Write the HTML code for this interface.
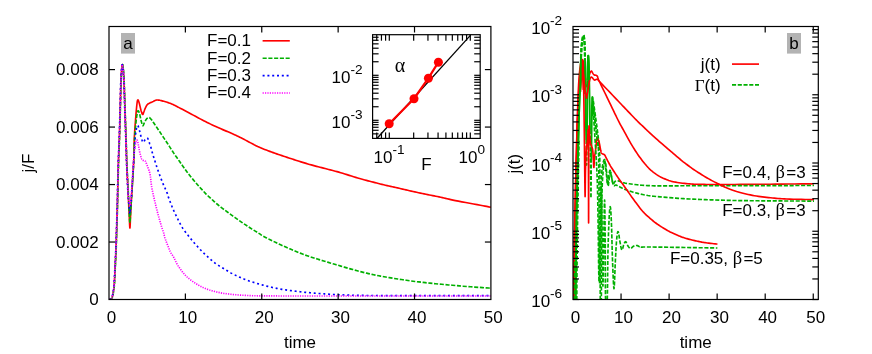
<!DOCTYPE html>
<html><head><meta charset="utf-8"><title>chart</title><style>html,body{margin:0;padding:0;background:#fff}svg{display:block}</style></head><body>
<svg width="872" height="354" viewBox="0 0 872 354" style="display:block;will-change:transform">
<rect x="0" y="0" width="872" height="354" fill="#fff"/>
<defs><clipPath id="cl"><rect x="109.00" y="26.50" width="381.90" height="273.00"/></clipPath>
<clipPath id="cr"><rect x="573.00" y="26.50" width="245.30" height="273.50"/></clipPath>
<clipPath id="ci"><rect x="372.6" y="34.7" width="107.6" height="103.7"/></clipPath></defs>
<g clip-path="url(#cl)">
<path d="M109.50 299.50 L109.63 299.46 L109.82 299.41 L110.03 299.36 L110.27 299.29 L110.52 299.21 L110.77 299.10 L111.00 298.97 L111.20 298.80 L111.38 298.60 L111.54 298.39 L111.70 298.16 L111.85 297.89 L111.99 297.60 L112.13 297.27 L112.27 296.91 L112.40 296.50 L112.53 296.05 L112.65 295.57 L112.76 295.04 L112.87 294.49 L112.98 293.89 L113.08 293.27 L113.19 292.60 L113.30 291.90 L113.41 291.22 L113.52 290.57 L113.64 289.92 L113.75 289.22 L113.86 288.43 L113.97 287.49 L114.09 286.36 L114.20 285.00 L114.31 283.37 L114.43 281.48 L114.54 279.41 L114.65 277.19 L114.77 274.89 L114.88 272.56 L114.99 270.24 L115.10 268.00 L115.21 265.72 L115.33 263.31 L115.45 260.84 L115.57 258.38 L115.68 255.99 L115.78 253.75 L115.87 251.73 L115.95 250.00 L116.01 248.70 L116.04 247.83 L116.07 247.24 L116.08 246.76 L116.10 246.25 L116.12 245.56 L116.15 244.53 L116.20 243.00 L116.27 240.92 L116.35 238.39 L116.44 235.55 L116.53 232.51 L116.63 229.40 L116.73 226.33 L116.82 223.42 L116.90 220.80 L116.97 218.60 L117.03 216.76 L117.08 215.12 L117.13 213.51 L117.19 211.76 L117.25 209.70 L117.32 207.17 L117.40 204.00 L117.50 200.00 L117.61 195.26 L117.72 190.00 L117.85 184.45 L117.97 178.85 L118.10 173.42 L118.23 168.39 L118.35 164.00 L118.47 160.21 L118.60 156.78 L118.72 153.65 L118.85 150.75 L118.97 148.00 L119.09 145.34 L119.20 142.70 L119.30 140.00 L119.39 137.29 L119.48 134.64 L119.56 132.06 L119.63 129.54 L119.70 127.08 L119.77 124.67 L119.83 122.31 L119.90 120.00 L119.96 117.79 L120.02 115.71 L120.08 113.71 L120.13 111.74 L120.18 109.78 L120.23 107.76 L120.29 105.65 L120.35 103.40 L120.41 100.95 L120.48 98.31 L120.54 95.56 L120.61 92.78 L120.68 90.02 L120.75 87.37 L120.82 84.91 L120.90 82.70 L120.98 80.73 L121.06 78.90 L121.14 77.23 L121.23 75.67 L121.32 74.24 L121.41 72.91 L121.50 71.67 L121.60 70.50 L121.70 69.38 L121.80 68.31 L121.91 67.31 L122.02 66.42 L122.12 65.67 L122.23 65.10 L122.34 64.73 L122.45 64.60 L122.56 64.73 L122.66 65.10 L122.77 65.67 L122.88 66.42 L122.99 67.31 L123.09 68.31 L123.20 69.38 L123.30 70.50 L123.40 71.67 L123.50 72.91 L123.59 74.24 L123.68 75.68 L123.78 77.23 L123.87 78.90 L123.96 80.73 L124.05 82.70 L124.14 84.91 L124.23 87.37 L124.32 90.02 L124.41 92.78 L124.50 95.56 L124.59 98.31 L124.67 100.95 L124.75 103.40 L124.82 105.65 L124.89 107.76 L124.96 109.78 L125.02 111.74 L125.09 113.71 L125.16 115.71 L125.23 117.79 L125.30 120.00 L125.38 122.31 L125.46 124.67 L125.55 127.08 L125.64 129.54 L125.73 132.06 L125.82 134.64 L125.91 137.29 L126.00 140.00 L126.09 142.86 L126.18 145.91 L126.28 149.06 L126.37 152.25 L126.47 155.41 L126.56 158.47 L126.66 161.36 L126.75 164.00 L126.84 166.38 L126.94 168.56 L127.03 170.59 L127.12 172.50 L127.22 174.35 L127.31 176.19 L127.40 178.05 L127.50 180.00 L127.60 181.98 L127.69 183.93 L127.79 185.87 L127.89 187.81 L127.99 189.78 L128.09 191.79 L128.19 193.86 L128.30 196.00 L128.41 198.27 L128.52 200.68 L128.64 203.17 L128.76 205.69 L128.87 208.18 L128.99 210.60 L129.10 212.89 L129.20 215.00 L129.30 217.09 L129.39 219.28 L129.48 221.46 L129.56 223.50 L129.65 225.29 L129.73 226.72 L129.81 227.66 L129.90 228.00 L129.99 227.62 L130.08 226.59 L130.16 225.05 L130.25 223.16 L130.34 221.05 L130.43 218.89 L130.51 216.83 L130.60 215.00 L130.68 213.53 L130.73 212.32 L130.78 211.20 L130.84 210.03 L130.91 208.64 L131.00 206.86 L131.13 204.53 L131.30 201.50 L131.54 197.52 L131.85 192.63 L132.19 187.11 L132.56 181.26 L132.93 175.34 L133.27 169.63 L133.57 164.43 L133.80 160.00 L133.95 156.34 L134.04 153.18 L134.09 150.40 L134.12 147.90 L134.13 145.56 L134.16 143.27 L134.21 140.92 L134.30 138.40 L134.43 135.72 L134.59 133.01 L134.76 130.29 L134.95 127.59 L135.14 124.95 L135.34 122.40 L135.52 119.97 L135.70 117.70 L135.87 115.54 L136.04 113.44 L136.21 111.43 L136.38 109.53 L136.55 107.76 L136.71 106.15 L136.86 104.72 L137.00 103.50 L137.13 102.50 L137.24 101.70 L137.35 101.08 L137.45 100.62 L137.55 100.29 L137.66 100.08 L137.77 99.96 L137.90 99.90 L138.04 99.93 L138.18 100.09 L138.33 100.36 L138.48 100.73 L138.64 101.18 L138.82 101.72 L139.00 102.33 L139.20 103.00 L139.42 103.80 L139.66 104.76 L139.92 105.84 L140.19 106.97 L140.46 108.11 L140.72 109.20 L140.97 110.18 L141.20 111.00 L141.41 111.69 L141.62 112.33 L141.82 112.91 L142.01 113.41 L142.19 113.82 L142.36 114.15 L142.54 114.38 L142.70 114.50 L142.86 114.48 L143.00 114.32 L143.13 114.04 L143.26 113.68 L143.39 113.27 L143.52 112.83 L143.66 112.40 L143.80 112.00 L143.95 111.62 L144.10 111.21 L144.26 110.79 L144.41 110.35 L144.57 109.91 L144.74 109.46 L144.92 109.03 L145.10 108.60 L145.29 108.17 L145.49 107.73 L145.70 107.28 L145.92 106.84 L146.14 106.42 L146.36 106.01 L146.58 105.64 L146.80 105.30 L147.01 105.01 L147.20 104.76 L147.39 104.54 L147.59 104.34 L147.80 104.16 L148.03 103.98 L148.29 103.80 L148.60 103.60 L148.96 103.39 L149.37 103.19 L149.81 102.98 L150.28 102.78 L150.76 102.58 L151.23 102.38 L151.68 102.19 L152.10 102.00 L152.49 101.81 L152.87 101.62 L153.24 101.43 L153.59 101.24 L153.95 101.06 L154.30 100.89 L154.65 100.74 L155.00 100.60 L155.33 100.47 L155.63 100.35 L155.92 100.23 L156.21 100.13 L156.52 100.05 L156.88 100.00 L157.30 99.98 L157.80 100.00 L158.39 100.06 L159.05 100.17 L159.77 100.30 L160.54 100.47 L161.34 100.66 L162.15 100.86 L162.98 101.08 L163.80 101.30 L164.63 101.53 L165.48 101.78 L166.36 102.05 L167.24 102.32 L168.14 102.62 L169.03 102.93 L169.92 103.26 L170.80 103.60 L171.62 103.94 L172.37 104.26 L173.09 104.59 L173.82 104.94 L174.61 105.33 L175.49 105.77 L176.51 106.29 L177.70 106.90 L179.09 107.62 L180.66 108.44 L182.37 109.34 L184.16 110.29 L186.01 111.28 L187.88 112.27 L189.72 113.26 L191.50 114.20 L193.23 115.13 L194.97 116.06 L196.71 117.01 L198.45 117.95 L200.19 118.89 L201.93 119.81 L203.67 120.72 L205.40 121.60 L207.13 122.46 L208.86 123.30 L210.58 124.13 L212.31 124.94 L214.03 125.75 L215.75 126.54 L217.48 127.32 L219.20 128.10 L220.94 128.87 L222.72 129.63 L224.50 130.38 L226.28 131.12 L228.04 131.86 L229.75 132.58 L231.41 133.30 L233.00 134.00 L234.48 134.68 L235.86 135.32 L237.17 135.95 L238.45 136.57 L239.73 137.20 L241.04 137.86 L242.42 138.55 L243.90 139.30 L245.49 140.12 L247.15 141.01 L248.86 141.94 L250.62 142.89 L252.40 143.84 L254.18 144.78 L255.96 145.67 L257.70 146.50 L259.42 147.27 L261.15 148.01 L262.87 148.72 L264.59 149.40 L266.32 150.06 L268.04 150.71 L269.77 151.36 L271.50 152.00 L273.23 152.64 L274.97 153.26 L276.71 153.86 L278.45 154.46 L280.19 155.05 L281.93 155.64 L283.67 156.22 L285.40 156.80 L287.13 157.38 L288.86 157.96 L290.58 158.53 L292.31 159.09 L294.03 159.65 L295.75 160.21 L297.48 160.76 L299.20 161.30 L300.92 161.84 L302.65 162.36 L304.37 162.89 L306.09 163.41 L307.82 163.92 L309.54 164.42 L311.27 164.91 L313.00 165.40 L314.73 165.87 L316.47 166.33 L318.21 166.78 L319.95 167.22 L321.69 167.66 L323.43 168.10 L325.17 168.55 L326.90 169.00 L328.61 169.45 L330.28 169.88 L331.94 170.31 L333.61 170.74 L335.30 171.19 L337.03 171.66 L338.82 172.16 L340.70 172.70 L342.69 173.30 L344.80 173.95 L346.98 174.64 L349.20 175.35 L351.42 176.06 L353.60 176.75 L355.71 177.40 L357.70 178.00 L359.58 178.54 L361.37 179.04 L363.10 179.51 L364.79 179.96 L366.46 180.40 L368.12 180.83 L369.79 181.26 L371.50 181.70 L373.23 182.15 L374.97 182.60 L376.71 183.04 L378.45 183.49 L380.19 183.93 L381.93 184.36 L383.67 184.78 L385.40 185.20 L387.13 185.61 L388.86 186.00 L390.58 186.39 L392.31 186.77 L394.03 187.15 L395.75 187.53 L397.48 187.91 L399.20 188.30 L400.92 188.70 L402.63 189.10 L404.34 189.50 L406.04 189.90 L407.76 190.30 L409.49 190.70 L411.23 191.10 L413.00 191.50 L414.81 191.90 L416.65 192.29 L418.52 192.69 L420.40 193.09 L422.27 193.48 L424.12 193.86 L425.94 194.24 L427.70 194.60 L429.39 194.94 L431.03 195.27 L432.62 195.58 L434.20 195.88 L435.78 196.19 L437.37 196.51 L439.01 196.84 L440.70 197.20 L442.37 197.58 L443.95 197.95 L445.52 198.34 L447.14 198.74 L448.87 199.17 L450.78 199.61 L452.93 200.09 L455.40 200.60 L458.37 201.18 L461.85 201.84 L465.67 202.54 L469.62 203.26 L473.53 203.97 L477.18 204.63 L480.40 205.22 L483.00 205.70 L484.98 206.08 L486.55 206.38 L487.75 206.63 L488.68 206.82 L489.38 206.97 L489.94 207.09 L490.43 207.20 L490.90 207.30" fill="none" stroke="#ff0000" stroke-width="1.65" stroke-linejoin="round" />
<path d="M109.70 299.50 L109.83 299.46 L110.02 299.41 L110.23 299.36 L110.47 299.29 L110.72 299.21 L110.97 299.10 L111.20 298.97 L111.40 298.80 L111.58 298.60 L111.74 298.39 L111.90 298.16 L112.05 297.89 L112.19 297.60 L112.33 297.27 L112.47 296.91 L112.60 296.50 L112.73 296.05 L112.85 295.57 L112.96 295.04 L113.07 294.49 L113.18 293.89 L113.28 293.27 L113.39 292.60 L113.50 291.90 L113.61 291.22 L113.72 290.57 L113.84 289.92 L113.95 289.22 L114.06 288.43 L114.17 287.49 L114.29 286.36 L114.40 285.00 L114.51 283.37 L114.63 281.48 L114.74 279.41 L114.85 277.19 L114.97 274.89 L115.08 272.56 L115.19 270.24 L115.30 268.00 L115.41 265.72 L115.53 263.31 L115.65 260.84 L115.77 258.38 L115.88 255.99 L115.98 253.75 L116.07 251.73 L116.15 250.00 L116.21 248.70 L116.24 247.83 L116.27 247.24 L116.28 246.76 L116.30 246.25 L116.32 245.56 L116.35 244.53 L116.40 243.00 L116.47 240.92 L116.55 238.39 L116.64 235.55 L116.73 232.51 L116.83 229.40 L116.93 226.33 L117.02 223.42 L117.10 220.80 L117.17 218.60 L117.23 216.76 L117.28 215.12 L117.33 213.51 L117.39 211.76 L117.45 209.70 L117.52 207.17 L117.60 204.00 L117.70 200.00 L117.81 195.26 L117.92 190.00 L118.05 184.45 L118.17 178.85 L118.30 173.42 L118.43 168.39 L118.55 164.00 L118.67 160.21 L118.80 156.78 L118.92 153.65 L119.05 150.75 L119.17 148.00 L119.29 145.34 L119.40 142.70 L119.50 140.00 L119.59 137.29 L119.68 134.64 L119.76 132.06 L119.83 129.54 L119.90 127.08 L119.97 124.67 L120.03 122.31 L120.10 120.00 L120.16 117.79 L120.22 115.71 L120.28 113.71 L120.33 111.74 L120.38 109.78 L120.43 107.76 L120.49 105.65 L120.55 103.40 L120.61 100.95 L120.68 98.31 L120.74 95.56 L120.81 92.78 L120.88 90.02 L120.95 87.37 L121.02 84.91 L121.10 82.70 L121.18 80.73 L121.26 78.90 L121.34 77.23 L121.43 75.67 L121.52 74.24 L121.61 72.91 L121.70 71.67 L121.80 70.50 L121.90 69.38 L122.00 68.31 L122.11 67.31 L122.22 66.42 L122.32 65.67 L122.43 65.10 L122.54 64.73 L122.65 64.60 L122.76 64.73 L122.86 65.10 L122.97 65.67 L123.08 66.42 L123.19 67.31 L123.29 68.31 L123.40 69.38 L123.50 70.50 L123.60 71.67 L123.70 72.91 L123.79 74.24 L123.88 75.68 L123.98 77.23 L124.07 78.90 L124.16 80.73 L124.25 82.70 L124.34 84.91 L124.43 87.37 L124.52 90.02 L124.61 92.78 L124.70 95.56 L124.79 98.31 L124.87 100.95 L124.95 103.40 L125.02 105.65 L125.09 107.76 L125.16 109.78 L125.22 111.74 L125.29 113.71 L125.36 115.71 L125.43 117.79 L125.50 120.00 L125.58 122.31 L125.66 124.67 L125.75 127.08 L125.84 129.54 L125.93 132.06 L126.02 134.64 L126.11 137.29 L126.20 140.00 L126.29 142.86 L126.38 145.91 L126.48 149.06 L126.57 152.25 L126.67 155.41 L126.76 158.47 L126.86 161.36 L126.95 164.00 L127.04 166.38 L127.14 168.56 L127.23 170.59 L127.32 172.50 L127.42 174.35 L127.51 176.19 L127.60 178.05 L127.70 180.00 L127.80 182.00 L127.90 184.00 L128.00 186.00 L128.10 188.00 L128.21 190.00 L128.31 192.00 L128.40 194.00 L128.50 196.00 L128.59 198.04 L128.68 200.12 L128.77 202.23 L128.86 204.33 L128.94 206.38 L129.03 208.37 L129.11 210.25 L129.20 212.00 L129.29 213.75 L129.38 215.57 L129.46 217.38 L129.55 219.07 L129.64 220.56 L129.72 221.74 L129.81 222.52 L129.90 222.80 L129.99 222.48 L130.08 221.61 L130.16 220.32 L130.25 218.73 L130.34 216.98 L130.43 215.19 L130.51 213.48 L130.60 212.00 L130.68 210.89 L130.73 210.08 L130.78 209.40 L130.84 208.67 L130.91 207.69 L131.00 206.30 L131.13 204.29 L131.30 201.50 L131.54 197.65 L131.84 192.80 L132.18 187.26 L132.55 181.34 L132.92 175.35 L133.26 169.59 L133.56 164.37 L133.80 160.00 L133.97 156.46 L134.08 153.44 L134.16 150.84 L134.21 148.53 L134.26 146.41 L134.31 144.36 L134.39 142.26 L134.50 140.00 L134.65 137.59 L134.82 135.15 L135.01 132.71 L135.21 130.31 L135.42 128.00 L135.62 125.82 L135.82 123.81 L136.00 122.00 L136.17 120.40 L136.35 118.96 L136.52 117.67 L136.69 116.51 L136.85 115.48 L137.01 114.56 L137.16 113.74 L137.30 113.00 L137.43 112.37 L137.54 111.86 L137.65 111.46 L137.75 111.17 L137.85 110.97 L137.96 110.85 L138.07 110.79 L138.20 110.80 L138.34 110.87 L138.49 111.02 L138.64 111.24 L138.80 111.54 L138.97 111.92 L139.14 112.37 L139.32 112.90 L139.50 113.50 L139.69 114.23 L139.90 115.10 L140.11 116.08 L140.33 117.12 L140.55 118.18 L140.77 119.21 L140.99 120.16 L141.20 121.00 L141.41 121.77 L141.61 122.54 L141.82 123.28 L142.02 123.97 L142.22 124.59 L142.42 125.10 L142.61 125.48 L142.80 125.70 L142.98 125.74 L143.14 125.62 L143.30 125.36 L143.46 125.01 L143.62 124.58 L143.79 124.11 L143.98 123.64 L144.20 123.20 L144.44 122.74 L144.71 122.21 L144.99 121.63 L145.28 121.04 L145.58 120.45 L145.89 119.90 L146.20 119.41 L146.50 119.00 L146.80 118.66 L147.12 118.35 L147.43 118.09 L147.75 117.86 L148.07 117.69 L148.38 117.57 L148.70 117.50 L149.00 117.50 L149.30 117.57 L149.58 117.72 L149.87 117.93 L150.15 118.19 L150.43 118.49 L150.72 118.81 L151.00 119.15 L151.30 119.50 L151.57 119.82 L151.81 120.11 L152.03 120.40 L152.26 120.73 L152.52 121.12 L152.85 121.60 L153.27 122.22 L153.80 123.00 L154.46 123.97 L155.24 125.11 L156.10 126.39 L157.03 127.77 L157.98 129.20 L158.95 130.64 L159.90 132.05 L160.80 133.40 L161.67 134.71 L162.55 136.02 L163.43 137.34 L164.30 138.65 L165.17 139.96 L166.03 141.26 L166.87 142.54 L167.70 143.80 L168.52 145.07 L169.36 146.35 L170.18 147.64 L170.99 148.91 L171.78 150.14 L172.54 151.31 L173.24 152.41 L173.90 153.40 L174.46 154.23 L174.91 154.90 L175.30 155.45 L175.67 155.96 L176.05 156.49 L176.49 157.10 L177.03 157.85 L177.70 158.80 L178.52 159.98 L179.46 161.33 L180.48 162.82 L181.57 164.39 L182.69 166.00 L183.82 167.60 L184.93 169.15 L186.00 170.60 L187.02 171.95 L188.01 173.25 L188.99 174.51 L189.97 175.76 L190.98 177.02 L192.03 178.29 L193.13 179.61 L194.30 181.00 L195.61 182.52 L197.08 184.19 L198.63 185.93 L200.20 187.69 L201.73 189.38 L203.15 190.94 L204.40 192.31 L205.40 193.40 L206.08 194.14 L206.47 194.57 L206.66 194.78 L206.75 194.86 L206.84 194.93 L207.03 195.07 L207.42 195.40 L208.10 196.00 L209.07 196.88 L210.22 197.93 L211.53 199.13 L212.96 200.42 L214.47 201.77 L216.04 203.15 L217.63 204.50 L219.20 205.80 L220.80 207.07 L222.46 208.35 L224.17 209.65 L225.92 210.96 L227.70 212.26 L229.48 213.56 L231.25 214.84 L233.00 216.10 L234.74 217.35 L236.50 218.61 L238.27 219.86 L240.04 221.11 L241.79 222.33 L243.53 223.52 L245.23 224.68 L246.90 225.80 L248.58 226.90 L250.29 228.00 L252.01 229.08 L253.69 230.12 L255.29 231.12 L256.79 232.04 L258.14 232.87 L259.30 233.60 L260.18 234.17 L260.76 234.58 L261.15 234.87 L261.46 235.11 L261.77 235.33 L262.20 235.61 L262.84 235.98 L263.80 236.50 L265.09 237.18 L266.62 237.96 L268.33 238.83 L270.17 239.74 L272.08 240.69 L274.01 241.63 L275.90 242.54 L277.70 243.40 L279.43 244.21 L281.15 245.02 L282.88 245.81 L284.60 246.59 L286.32 247.36 L288.05 248.12 L289.77 248.86 L291.50 249.60 L293.23 250.33 L294.97 251.05 L296.71 251.76 L298.45 252.46 L300.19 253.14 L301.93 253.81 L303.67 254.47 L305.40 255.10 L307.12 255.71 L308.84 256.30 L310.55 256.87 L312.26 257.42 L313.97 257.96 L315.70 258.51 L317.44 259.05 L319.20 259.60 L320.99 260.16 L322.81 260.71 L324.65 261.27 L326.49 261.83 L328.34 262.38 L330.18 262.92 L332.00 263.47 L333.80 264.00 L335.57 264.53 L337.33 265.05 L339.07 265.57 L340.80 266.09 L342.53 266.60 L344.25 267.10 L345.97 267.60 L347.70 268.10 L349.43 268.59 L351.15 269.09 L352.88 269.57 L354.60 270.06 L356.32 270.53 L358.05 271.00 L359.77 271.46 L361.50 271.90 L363.23 272.33 L364.97 272.76 L366.71 273.17 L368.45 273.58 L370.19 273.98 L371.93 274.36 L373.67 274.74 L375.40 275.10 L377.13 275.45 L378.86 275.78 L380.58 276.10 L382.31 276.41 L384.03 276.72 L385.75 277.01 L387.48 277.31 L389.20 277.60 L390.92 277.89 L392.65 278.18 L394.37 278.46 L396.09 278.74 L397.82 279.01 L399.54 279.28 L401.27 279.54 L403.00 279.80 L404.70 280.05 L406.36 280.29 L408.00 280.53 L409.66 280.76 L411.35 280.99 L413.10 281.23 L414.94 281.46 L416.90 281.70 L418.93 281.94 L420.99 282.18 L423.10 282.42 L425.29 282.66 L427.59 282.91 L430.03 283.16 L432.62 283.43 L435.40 283.70 L438.41 283.99 L441.65 284.30 L445.07 284.62 L448.61 284.95 L452.23 285.28 L455.87 285.60 L459.47 285.91 L463.00 286.20 L466.66 286.49 L470.61 286.78 L474.67 287.07 L478.68 287.36 L482.47 287.62 L485.88 287.85 L488.75 288.05 L490.90 288.20" fill="none" stroke="#00b000" stroke-width="1.65" stroke-dasharray="4.1 1.65" stroke-linejoin="round" />
<path d="M109.30 299.50 L109.43 299.46 L109.62 299.41 L109.83 299.36 L110.07 299.29 L110.32 299.21 L110.57 299.10 L110.80 298.97 L111.00 298.80 L111.18 298.60 L111.34 298.39 L111.50 298.16 L111.65 297.89 L111.79 297.60 L111.93 297.27 L112.07 296.91 L112.20 296.50 L112.33 296.05 L112.45 295.57 L112.56 295.04 L112.67 294.49 L112.78 293.89 L112.88 293.27 L112.99 292.60 L113.10 291.90 L113.21 291.22 L113.32 290.57 L113.44 289.92 L113.55 289.22 L113.66 288.43 L113.77 287.49 L113.89 286.36 L114.00 285.00 L114.11 283.37 L114.23 281.48 L114.34 279.41 L114.45 277.19 L114.57 274.89 L114.68 272.56 L114.79 270.24 L114.90 268.00 L115.01 265.72 L115.13 263.31 L115.25 260.84 L115.37 258.38 L115.48 255.99 L115.58 253.75 L115.67 251.73 L115.75 250.00 L115.81 248.70 L115.84 247.83 L115.87 247.24 L115.88 246.76 L115.90 246.25 L115.92 245.56 L115.95 244.53 L116.00 243.00 L116.07 240.92 L116.15 238.39 L116.24 235.55 L116.33 232.51 L116.43 229.40 L116.53 226.33 L116.62 223.42 L116.70 220.80 L116.77 218.60 L116.83 216.76 L116.88 215.12 L116.93 213.51 L116.99 211.76 L117.05 209.70 L117.12 207.17 L117.20 204.00 L117.30 200.00 L117.41 195.26 L117.52 190.00 L117.65 184.45 L117.77 178.85 L117.90 173.42 L118.03 168.39 L118.15 164.00 L118.27 160.21 L118.40 156.78 L118.52 153.65 L118.65 150.75 L118.77 148.00 L118.89 145.34 L119.00 142.70 L119.10 140.00 L119.19 137.29 L119.28 134.64 L119.36 132.06 L119.43 129.54 L119.50 127.08 L119.57 124.67 L119.63 122.31 L119.70 120.00 L119.76 117.79 L119.82 115.71 L119.88 113.71 L119.93 111.74 L119.98 109.78 L120.03 107.76 L120.09 105.65 L120.15 103.40 L120.21 100.95 L120.28 98.31 L120.34 95.56 L120.41 92.78 L120.48 90.02 L120.55 87.37 L120.62 84.91 L120.70 82.70 L120.78 80.73 L120.86 78.90 L120.94 77.23 L121.03 75.67 L121.12 74.24 L121.21 72.91 L121.30 71.67 L121.40 70.50 L121.50 69.38 L121.60 68.31 L121.71 67.31 L121.82 66.42 L121.92 65.67 L122.03 65.10 L122.14 64.73 L122.25 64.60 L122.36 64.73 L122.46 65.10 L122.57 65.67 L122.68 66.42 L122.79 67.31 L122.89 68.31 L123.00 69.38 L123.10 70.50 L123.20 71.67 L123.30 72.91 L123.39 74.24 L123.48 75.68 L123.58 77.23 L123.67 78.90 L123.76 80.73 L123.85 82.70 L123.94 84.91 L124.03 87.37 L124.12 90.02 L124.21 92.78 L124.30 95.56 L124.39 98.31 L124.47 100.95 L124.55 103.40 L124.62 105.65 L124.69 107.76 L124.76 109.78 L124.82 111.74 L124.89 113.71 L124.96 115.71 L125.03 117.79 L125.10 120.00 L125.18 122.31 L125.26 124.67 L125.35 127.08 L125.44 129.54 L125.53 132.06 L125.62 134.64 L125.71 137.29 L125.80 140.00 L125.89 142.86 L125.98 145.91 L126.08 149.06 L126.17 152.25 L126.27 155.41 L126.36 158.47 L126.46 161.36 L126.55 164.00 L126.64 166.38 L126.74 168.56 L126.83 170.59 L126.92 172.50 L127.02 174.35 L127.11 176.19 L127.20 178.05 L127.30 180.00 L127.40 182.03 L127.49 184.12 L127.58 186.22 L127.68 188.31 L127.78 190.37 L127.88 192.35 L127.99 194.24 L128.10 196.00 L128.23 197.64 L128.36 199.20 L128.51 200.68 L128.66 202.08 L128.80 203.40 L128.95 204.66 L129.08 205.86 L129.20 207.00 L129.31 208.14 L129.40 209.31 L129.49 210.46 L129.57 211.51 L129.66 212.43 L129.73 213.15 L129.82 213.63 L129.90 213.80 L129.99 213.61 L130.08 213.08 L130.16 212.30 L130.25 211.33 L130.34 210.24 L130.43 209.10 L130.51 208.00 L130.60 207.00 L130.68 206.27 L130.73 205.81 L130.78 205.45 L130.84 205.01 L130.91 204.32 L131.00 203.21 L131.13 201.49 L131.30 199.00 L131.54 195.48 L131.83 190.98 L132.16 185.81 L132.52 180.25 L132.88 174.60 L133.22 169.14 L133.54 164.18 L133.80 160.00 L134.01 156.53 L134.19 153.44 L134.34 150.69 L134.48 148.22 L134.60 145.97 L134.72 143.89 L134.85 141.92 L135.00 140.00 L135.16 138.19 L135.32 136.55 L135.48 135.07 L135.65 133.74 L135.82 132.53 L135.98 131.43 L136.14 130.43 L136.30 129.50 L136.45 128.66 L136.60 127.94 L136.75 127.32 L136.90 126.80 L137.05 126.38 L137.20 126.06 L137.35 125.84 L137.50 125.70 L137.65 125.65 L137.80 125.70 L137.94 125.84 L138.09 126.08 L138.24 126.42 L138.41 126.85 L138.59 127.37 L138.80 128.00 L139.03 128.78 L139.29 129.75 L139.57 130.85 L139.86 132.03 L140.15 133.24 L140.44 134.42 L140.73 135.52 L141.00 136.50 L141.26 137.41 L141.51 138.33 L141.76 139.24 L142.01 140.09 L142.26 140.85 L142.50 141.50 L142.75 141.99 L143.00 142.30 L143.25 142.38 L143.50 142.24 L143.75 141.94 L144.01 141.53 L144.26 141.06 L144.51 140.58 L144.75 140.14 L145.00 139.80 L145.25 139.51 L145.49 139.20 L145.74 138.89 L145.99 138.59 L146.23 138.33 L146.46 138.11 L146.69 137.97 L146.90 137.90 L147.10 137.91 L147.29 137.99 L147.46 138.12 L147.63 138.31 L147.80 138.55 L147.96 138.83 L148.13 139.15 L148.30 139.50 L148.48 139.92 L148.66 140.42 L148.84 140.99 L149.03 141.58 L149.20 142.19 L149.38 142.77 L149.54 143.32 L149.70 143.80 L149.84 144.19 L149.96 144.49 L150.07 144.75 L150.17 144.99 L150.28 145.25 L150.40 145.57 L150.54 145.97 L150.70 146.50 L150.89 147.17 L151.10 147.96 L151.32 148.85 L151.56 149.78 L151.80 150.74 L152.04 151.68 L152.27 152.58 L152.50 153.40 L152.70 154.10 L152.88 154.69 L153.04 155.22 L153.21 155.75 L153.39 156.32 L153.61 156.99 L153.87 157.80 L154.20 158.80 L154.60 160.03 L155.05 161.46 L155.56 163.03 L156.09 164.69 L156.65 166.40 L157.21 168.11 L157.77 169.76 L158.30 171.30 L158.82 172.76 L159.33 174.18 L159.84 175.57 L160.36 176.94 L160.88 178.31 L161.41 179.66 L161.95 181.03 L162.50 182.40 L163.10 183.84 L163.75 185.35 L164.44 186.90 L165.12 188.43 L165.77 189.89 L166.37 191.24 L166.89 192.43 L167.30 193.40 L167.56 194.06 L167.67 194.41 L167.68 194.56 L167.65 194.61 L167.62 194.67 L167.63 194.85 L167.74 195.26 L168.00 196.00 L168.40 197.10 L168.91 198.48 L169.50 200.05 L170.14 201.76 L170.81 203.53 L171.50 205.29 L172.17 206.97 L172.80 208.50 L173.41 209.91 L174.02 211.28 L174.63 212.62 L175.25 213.92 L175.87 215.19 L176.48 216.45 L177.09 217.68 L177.70 218.90 L178.30 220.11 L178.90 221.30 L179.50 222.48 L180.10 223.64 L180.70 224.76 L181.30 225.85 L181.90 226.90 L182.50 227.90 L183.09 228.83 L183.67 229.67 L184.24 230.47 L184.82 231.23 L185.41 231.99 L186.03 232.77 L186.69 233.60 L187.40 234.50 L188.15 235.46 L188.92 236.45 L189.72 237.46 L190.55 238.51 L191.42 239.59 L192.33 240.70 L193.29 241.83 L194.30 243.00 L195.37 244.21 L196.50 245.48 L197.68 246.79 L198.89 248.12 L200.14 249.47 L201.42 250.80 L202.71 252.12 L204.00 253.40 L205.36 254.70 L206.84 256.05 L208.36 257.41 L209.89 258.76 L211.37 260.04 L212.75 261.21 L213.98 262.25 L215.00 263.10 L215.76 263.73 L216.28 264.14 L216.64 264.40 L216.91 264.57 L217.14 264.69 L217.43 264.84 L217.82 265.05 L218.40 265.40 L219.17 265.87 L220.06 266.41 L221.04 267.00 L222.08 267.61 L223.13 268.24 L224.18 268.86 L225.18 269.45 L226.10 270.00 L226.89 270.49 L227.58 270.93 L228.20 271.34 L228.82 271.75 L229.48 272.17 L230.25 272.62 L231.17 273.12 L232.30 273.70 L233.66 274.37 L235.21 275.12 L236.91 275.92 L238.72 276.76 L240.58 277.60 L242.46 278.42 L244.32 279.19 L246.10 279.90 L247.86 280.55 L249.65 281.17 L251.46 281.76 L253.27 282.32 L255.05 282.85 L256.78 283.36 L258.43 283.84 L260.00 284.30 L261.46 284.72 L262.83 285.11 L264.13 285.46 L265.38 285.79 L266.60 286.11 L267.81 286.41 L269.04 286.70 L270.30 287.00 L271.59 287.30 L272.87 287.58 L274.16 287.86 L275.44 288.12 L276.73 288.38 L278.02 288.63 L279.31 288.87 L280.60 289.10 L281.90 289.32 L283.20 289.52 L284.50 289.72 L285.80 289.90 L287.10 290.08 L288.40 290.25 L289.70 290.43 L291.00 290.60 L292.29 290.77 L293.58 290.95 L294.87 291.12 L296.16 291.28 L297.44 291.44 L298.73 291.60 L300.01 291.75 L301.30 291.90 L302.59 292.04 L303.88 292.18 L305.16 292.31 L306.45 292.43 L307.74 292.55 L309.03 292.67 L310.31 292.79 L311.60 292.90 L312.89 293.01 L314.18 293.12 L315.46 293.22 L316.75 293.32 L318.04 293.42 L319.32 293.51 L320.61 293.61 L321.90 293.70 L323.19 293.79 L324.47 293.89 L325.76 293.98 L327.04 294.07 L328.33 294.16 L329.62 294.24 L330.91 294.32 L332.20 294.40 L333.45 294.47 L334.63 294.54 L335.79 294.60 L336.96 294.66 L338.18 294.72 L339.51 294.78 L340.96 294.84 L342.60 294.90 L344.29 294.96 L345.93 295.03 L347.62 295.10 L349.45 295.17 L351.51 295.23 L353.90 295.30 L356.70 295.35 L360.00 295.40 L363.57 295.44 L367.22 295.47 L371.11 295.50 L375.41 295.52 L380.28 295.55 L385.89 295.56 L392.41 295.58 L400.00 295.60 L409.55 295.62 L421.28 295.63 L434.35 295.65 L447.95 295.66 L461.23 295.67 L473.37 295.68 L483.54 295.69 L490.90 295.70" fill="none" stroke="#0000ff" stroke-width="1.65" stroke-dasharray="2 2.8" stroke-linejoin="round" />
<path d="M109.50 299.50 L109.63 299.46 L109.82 299.41 L110.03 299.36 L110.27 299.29 L110.52 299.21 L110.77 299.10 L111.00 298.97 L111.20 298.80 L111.38 298.60 L111.54 298.39 L111.70 298.16 L111.85 297.89 L111.99 297.60 L112.13 297.27 L112.27 296.91 L112.40 296.50 L112.53 296.05 L112.65 295.57 L112.76 295.04 L112.87 294.49 L112.98 293.89 L113.08 293.27 L113.19 292.60 L113.30 291.90 L113.41 291.22 L113.52 290.57 L113.64 289.92 L113.75 289.22 L113.86 288.43 L113.97 287.49 L114.09 286.36 L114.20 285.00 L114.31 283.37 L114.43 281.48 L114.54 279.41 L114.65 277.19 L114.77 274.89 L114.88 272.56 L114.99 270.24 L115.10 268.00 L115.21 265.72 L115.33 263.31 L115.45 260.84 L115.57 258.38 L115.68 255.99 L115.78 253.75 L115.87 251.73 L115.95 250.00 L116.01 248.70 L116.04 247.83 L116.07 247.24 L116.08 246.76 L116.10 246.25 L116.12 245.56 L116.15 244.53 L116.20 243.00 L116.27 240.92 L116.35 238.39 L116.44 235.55 L116.53 232.51 L116.63 229.40 L116.73 226.33 L116.82 223.42 L116.90 220.80 L116.97 218.60 L117.03 216.76 L117.08 215.12 L117.13 213.51 L117.19 211.76 L117.25 209.70 L117.32 207.17 L117.40 204.00 L117.50 200.00 L117.61 195.26 L117.72 190.00 L117.85 184.45 L117.97 178.85 L118.10 173.42 L118.23 168.39 L118.35 164.00 L118.47 160.21 L118.60 156.78 L118.72 153.65 L118.85 150.75 L118.97 148.00 L119.09 145.34 L119.20 142.70 L119.30 140.00 L119.39 137.29 L119.48 134.64 L119.56 132.06 L119.63 129.54 L119.70 127.08 L119.77 124.67 L119.83 122.31 L119.90 120.00 L119.96 117.79 L120.02 115.71 L120.08 113.71 L120.13 111.74 L120.18 109.78 L120.23 107.76 L120.29 105.65 L120.35 103.40 L120.41 100.95 L120.48 98.31 L120.54 95.56 L120.61 92.78 L120.68 90.02 L120.75 87.37 L120.82 84.91 L120.90 82.70 L120.98 80.73 L121.06 78.90 L121.14 77.23 L121.23 75.67 L121.32 74.24 L121.41 72.91 L121.50 71.67 L121.60 70.50 L121.70 69.38 L121.80 68.31 L121.91 67.31 L122.02 66.42 L122.12 65.67 L122.23 65.10 L122.34 64.73 L122.45 64.60 L122.56 64.73 L122.66 65.10 L122.77 65.67 L122.88 66.42 L122.99 67.31 L123.09 68.31 L123.20 69.38 L123.30 70.50 L123.40 71.67 L123.50 72.91 L123.59 74.24 L123.68 75.68 L123.78 77.23 L123.87 78.90 L123.96 80.73 L124.05 82.70 L124.14 84.91 L124.23 87.37 L124.32 90.02 L124.41 92.78 L124.50 95.56 L124.59 98.31 L124.67 100.95 L124.75 103.40 L124.82 105.65 L124.89 107.76 L124.96 109.78 L125.02 111.74 L125.09 113.71 L125.16 115.71 L125.23 117.79 L125.30 120.00 L125.38 122.31 L125.46 124.67 L125.55 127.08 L125.64 129.54 L125.73 132.06 L125.82 134.64 L125.91 137.29 L126.00 140.00 L126.09 142.86 L126.18 145.91 L126.28 149.06 L126.37 152.25 L126.47 155.41 L126.56 158.47 L126.66 161.36 L126.75 164.00 L126.84 166.38 L126.94 168.56 L127.03 170.59 L127.12 172.50 L127.22 174.35 L127.31 176.19 L127.40 178.05 L127.50 180.00 L127.60 182.08 L127.69 184.26 L127.79 186.48 L127.89 188.69 L127.99 190.81 L128.09 192.77 L128.19 194.53 L128.30 196.00 L128.41 197.15 L128.52 198.04 L128.64 198.70 L128.76 199.22 L128.87 199.65 L128.99 200.04 L129.10 200.47 L129.20 201.00 L129.30 201.65 L129.39 202.37 L129.48 203.12 L129.56 203.84 L129.65 204.49 L129.73 205.02 L129.81 205.37 L129.90 205.50 L129.99 205.40 L130.07 205.11 L130.15 204.67 L130.24 204.09 L130.32 203.41 L130.41 202.65 L130.50 201.84 L130.60 201.00 L130.69 200.25 L130.78 199.61 L130.87 198.97 L130.96 198.22 L131.07 197.26 L131.19 195.97 L131.33 194.26 L131.50 192.00 L131.71 188.98 L131.95 185.20 L132.22 180.89 L132.51 176.31 L132.80 171.69 L133.08 167.27 L133.35 163.30 L133.60 160.00 L133.82 157.33 L134.04 155.05 L134.24 153.08 L134.43 151.38 L134.62 149.87 L134.81 148.52 L135.00 147.24 L135.20 146.00 L135.40 144.80 L135.60 143.70 L135.81 142.72 L136.01 141.88 L136.21 141.17 L136.41 140.61 L136.61 140.22 L136.80 140.00 L136.98 140.00 L137.16 140.21 L137.34 140.60 L137.51 141.14 L137.68 141.78 L137.85 142.50 L138.03 143.25 L138.20 144.00 L138.37 144.81 L138.55 145.73 L138.72 146.74 L138.89 147.79 L139.06 148.86 L139.24 149.91 L139.42 150.90 L139.60 151.80 L139.79 152.63 L140.00 153.45 L140.20 154.23 L140.41 154.98 L140.62 155.68 L140.82 156.34 L141.02 156.95 L141.20 157.50 L141.37 157.99 L141.52 158.42 L141.66 158.79 L141.80 159.12 L141.94 159.42 L142.08 159.67 L142.23 159.90 L142.40 160.10 L142.58 160.26 L142.78 160.37 L142.98 160.44 L143.19 160.47 L143.40 160.50 L143.60 160.52 L143.81 160.55 L144.00 160.60 L144.18 160.63 L144.34 160.61 L144.49 160.57 L144.64 160.54 L144.80 160.56 L144.98 160.65 L145.17 160.86 L145.40 161.20 L145.66 161.70 L145.96 162.35 L146.27 163.10 L146.61 163.92 L146.94 164.80 L147.28 165.69 L147.60 166.57 L147.90 167.40 L148.19 168.18 L148.47 168.92 L148.75 169.65 L149.02 170.40 L149.28 171.19 L149.53 172.03 L149.77 172.96 L150.00 174.00 L150.21 175.21 L150.42 176.60 L150.61 178.10 L150.79 179.64 L150.96 181.17 L151.12 182.62 L151.26 183.92 L151.40 185.00 L151.51 185.82 L151.59 186.42 L151.65 186.87 L151.71 187.24 L151.77 187.60 L151.84 188.02 L151.95 188.56 L152.10 189.30 L152.29 190.21 L152.50 191.21 L152.73 192.29 L152.98 193.45 L153.26 194.69 L153.55 195.99 L153.87 197.37 L154.20 198.80 L154.56 200.34 L154.96 202.00 L155.38 203.76 L155.81 205.57 L156.26 207.40 L156.71 209.23 L157.16 211.00 L157.60 212.70 L158.04 214.35 L158.49 216.00 L158.94 217.64 L159.39 219.25 L159.84 220.82 L160.28 222.32 L160.70 223.76 L161.10 225.10 L161.48 226.35 L161.86 227.53 L162.23 228.64 L162.58 229.69 L162.92 230.68 L163.24 231.62 L163.53 232.53 L163.80 233.40 L164.01 234.17 L164.16 234.79 L164.27 235.33 L164.36 235.84 L164.48 236.38 L164.63 237.02 L164.87 237.81 L165.20 238.80 L165.66 240.07 L166.21 241.59 L166.85 243.27 L167.52 245.04 L168.22 246.81 L168.90 248.49 L169.54 250.02 L170.10 251.30 L170.59 252.31 L171.02 253.10 L171.42 253.75 L171.81 254.31 L172.19 254.84 L172.59 255.41 L173.02 256.07 L173.50 256.90 L174.02 257.88 L174.55 258.95 L175.11 260.10 L175.68 261.29 L176.28 262.51 L176.92 263.73 L177.59 264.93 L178.30 266.10 L179.05 267.25 L179.84 268.41 L180.67 269.58 L181.53 270.74 L182.42 271.89 L183.33 273.00 L184.26 274.08 L185.20 275.10 L186.15 276.07 L187.11 276.99 L188.09 277.87 L189.09 278.73 L190.12 279.56 L191.20 280.37 L192.32 281.19 L193.50 282.00 L194.74 282.82 L196.01 283.65 L197.34 284.46 L198.71 285.27 L200.12 286.05 L201.57 286.81 L203.06 287.53 L204.60 288.20 L206.20 288.84 L207.86 289.44 L209.57 290.02 L211.32 290.56 L213.10 291.07 L214.88 291.55 L216.65 291.99 L218.40 292.40 L220.13 292.76 L221.87 293.08 L223.61 293.36 L225.35 293.60 L227.09 293.82 L228.83 294.02 L230.57 294.21 L232.30 294.40 L233.98 294.58 L235.59 294.73 L237.17 294.87 L238.77 294.99 L240.42 295.11 L242.16 295.21 L244.04 295.31 L246.10 295.40 L247.98 295.49 L249.48 295.57 L250.89 295.64 L252.51 295.71 L254.63 295.76 L257.54 295.81 L261.53 295.86 L266.90 295.90 L273.41 295.93 L280.69 295.96 L288.82 295.97 L297.85 295.98 L307.86 295.99 L318.93 295.99 L331.12 296.00 L344.50 296.00 L360.51 296.00 L379.69 296.01 L400.79 296.01 L422.55 296.01 L443.70 296.00 L462.98 296.00 L479.14 296.00 L490.90 296.00" fill="none" stroke="#ff00ff" stroke-width="1.65" stroke-dasharray="1.2 1.2" stroke-linejoin="round" />
</g>
<rect x="109.00" y="26.50" width="381.90" height="273.00" fill="none" stroke="#000" stroke-width="1.2"/>
<line x1="185.38" y1="299.50" x2="185.38" y2="293.50" stroke="#000" stroke-width="1.2"/>
<line x1="185.38" y1="26.50" x2="185.38" y2="32.50" stroke="#000" stroke-width="1.2"/>
<line x1="261.76" y1="299.50" x2="261.76" y2="293.50" stroke="#000" stroke-width="1.2"/>
<line x1="261.76" y1="26.50" x2="261.76" y2="32.50" stroke="#000" stroke-width="1.2"/>
<line x1="338.14" y1="299.50" x2="338.14" y2="293.50" stroke="#000" stroke-width="1.2"/>
<line x1="338.14" y1="26.50" x2="338.14" y2="32.50" stroke="#000" stroke-width="1.2"/>
<line x1="414.52" y1="299.50" x2="414.52" y2="293.50" stroke="#000" stroke-width="1.2"/>
<line x1="414.52" y1="26.50" x2="414.52" y2="32.50" stroke="#000" stroke-width="1.2"/>
<line x1="109.00" y1="242.03" x2="115.00" y2="242.03" stroke="#000" stroke-width="1.2"/>
<line x1="490.90" y1="242.03" x2="484.90" y2="242.03" stroke="#000" stroke-width="1.2"/>
<line x1="109.00" y1="184.55" x2="115.00" y2="184.55" stroke="#000" stroke-width="1.2"/>
<line x1="490.90" y1="184.55" x2="484.90" y2="184.55" stroke="#000" stroke-width="1.2"/>
<line x1="109.00" y1="127.07" x2="115.00" y2="127.07" stroke="#000" stroke-width="1.2"/>
<line x1="490.90" y1="127.07" x2="484.90" y2="127.07" stroke="#000" stroke-width="1.2"/>
<line x1="109.00" y1="69.60" x2="115.00" y2="69.60" stroke="#000" stroke-width="1.2"/>
<line x1="490.90" y1="69.60" x2="484.90" y2="69.60" stroke="#000" stroke-width="1.2"/>
<text x="111.40" y="322.50" font-size="17" text-anchor="middle" font-family='"Liberation Sans", sans-serif' >0</text>
<text x="187.78" y="322.50" font-size="17" text-anchor="middle" font-family='"Liberation Sans", sans-serif' >10</text>
<text x="264.16" y="322.50" font-size="17" text-anchor="middle" font-family='"Liberation Sans", sans-serif' >20</text>
<text x="340.54" y="322.50" font-size="17" text-anchor="middle" font-family='"Liberation Sans", sans-serif' >30</text>
<text x="416.92" y="322.50" font-size="17" text-anchor="middle" font-family='"Liberation Sans", sans-serif' >40</text>
<text x="493.30" y="322.50" font-size="17" text-anchor="middle" font-family='"Liberation Sans", sans-serif' >50</text>
<text x="98.60" y="305.20" font-size="17" text-anchor="end" font-family='"Liberation Sans", sans-serif' >0</text>
<text x="98.60" y="247.72" font-size="17" text-anchor="end" font-family='"Liberation Sans", sans-serif' >0.002</text>
<text x="98.60" y="190.25" font-size="17" text-anchor="end" font-family='"Liberation Sans", sans-serif' >0.004</text>
<text x="98.60" y="132.77" font-size="17" text-anchor="end" font-family='"Liberation Sans", sans-serif' >0.006</text>
<text x="98.60" y="75.30" font-size="17" text-anchor="end" font-family='"Liberation Sans", sans-serif' >0.008</text>
<text x="300.00" y="348.20" font-size="17" text-anchor="middle" font-family='"Liberation Sans", sans-serif' >time</text>
<text transform="translate(33.8,163) rotate(-90)" font-size="17" text-anchor="middle" font-family='"Liberation Sans", sans-serif'>j/F</text>
<rect x="121" y="33" width="14" height="20.6" fill="#b3b3b3"/>
<text x="128.00" y="49.30" font-size="17" text-anchor="middle" font-family='"Liberation Sans", sans-serif' >a</text>
<text x="251.00" y="46.10" font-size="17" text-anchor="end" font-family='"Liberation Sans", sans-serif' >F=0.1</text>
<path d="M262.60 40.80 L289.80 40.80" fill="none" stroke="#ff0000" stroke-width="1.65" stroke-linejoin="round" />
<text x="251.00" y="63.50" font-size="17" text-anchor="end" font-family='"Liberation Sans", sans-serif' >F=0.2</text>
<path d="M262.60 58.20 L289.80 58.20" fill="none" stroke="#00b000" stroke-width="1.65" stroke-dasharray="4.1 1.65" stroke-linejoin="round" />
<text x="251.00" y="80.90" font-size="17" text-anchor="end" font-family='"Liberation Sans", sans-serif' >F=0.3</text>
<path d="M262.60 75.60 L289.80 75.60" fill="none" stroke="#0000ff" stroke-width="1.65" stroke-dasharray="2 2.8" stroke-linejoin="round" />
<text x="251.00" y="98.30" font-size="17" text-anchor="end" font-family='"Liberation Sans", sans-serif' >F=0.4</text>
<path d="M262.60 93.00 L289.80 93.00" fill="none" stroke="#ff00ff" stroke-width="1.65" stroke-dasharray="1.2 1.2" stroke-linejoin="round" />
<rect x="372.60" y="34.70" width="107.60" height="103.70" fill="#fff" stroke="none"/>
<g clip-path="url(#ci)">
<line x1="376.90" y1="138.50" x2="470.60" y2="35.10" stroke="#000" stroke-width="1.3"/>
</g>
<path d="M389.20 123.75 L414.00 98.75 L428.40 78.20 L438.40 62.20" fill="none" stroke="#ff0000" stroke-width="2.2" stroke-linejoin="round" />
<circle cx="389.20" cy="123.75" r="4.5" fill="#ff0000"/>
<circle cx="414.00" cy="98.75" r="4.5" fill="#ff0000"/>
<circle cx="428.40" cy="78.20" r="4.5" fill="#ff0000"/>
<circle cx="438.40" cy="62.20" r="4.5" fill="#ff0000"/>
<rect x="372.60" y="34.70" width="107.60" height="103.70" fill="none" stroke="#000" stroke-width="1.2"/>
<line x1="376.75" y1="138.40" x2="376.75" y2="132.40" stroke="#000" stroke-width="1.2"/>
<line x1="376.75" y1="34.70" x2="376.75" y2="40.70" stroke="#000" stroke-width="1.2"/>
<line x1="381.45" y1="138.40" x2="381.45" y2="132.40" stroke="#000" stroke-width="1.2"/>
<line x1="381.45" y1="34.70" x2="381.45" y2="40.70" stroke="#000" stroke-width="1.2"/>
<line x1="385.59" y1="138.40" x2="385.59" y2="132.40" stroke="#000" stroke-width="1.2"/>
<line x1="385.59" y1="34.70" x2="385.59" y2="40.70" stroke="#000" stroke-width="1.2"/>
<line x1="389.30" y1="138.40" x2="389.30" y2="132.40" stroke="#000" stroke-width="1.2"/>
<line x1="389.30" y1="34.70" x2="389.30" y2="40.70" stroke="#000" stroke-width="1.2"/>
<line x1="413.68" y1="138.40" x2="413.68" y2="132.40" stroke="#000" stroke-width="1.2"/>
<line x1="413.68" y1="34.70" x2="413.68" y2="40.70" stroke="#000" stroke-width="1.2"/>
<line x1="427.95" y1="138.40" x2="427.95" y2="132.40" stroke="#000" stroke-width="1.2"/>
<line x1="427.95" y1="34.70" x2="427.95" y2="40.70" stroke="#000" stroke-width="1.2"/>
<line x1="438.07" y1="138.40" x2="438.07" y2="132.40" stroke="#000" stroke-width="1.2"/>
<line x1="438.07" y1="34.70" x2="438.07" y2="40.70" stroke="#000" stroke-width="1.2"/>
<line x1="445.92" y1="138.40" x2="445.92" y2="132.40" stroke="#000" stroke-width="1.2"/>
<line x1="445.92" y1="34.70" x2="445.92" y2="40.70" stroke="#000" stroke-width="1.2"/>
<line x1="452.33" y1="138.40" x2="452.33" y2="132.40" stroke="#000" stroke-width="1.2"/>
<line x1="452.33" y1="34.70" x2="452.33" y2="40.70" stroke="#000" stroke-width="1.2"/>
<line x1="457.75" y1="138.40" x2="457.75" y2="132.40" stroke="#000" stroke-width="1.2"/>
<line x1="457.75" y1="34.70" x2="457.75" y2="40.70" stroke="#000" stroke-width="1.2"/>
<line x1="462.45" y1="138.40" x2="462.45" y2="132.40" stroke="#000" stroke-width="1.2"/>
<line x1="462.45" y1="34.70" x2="462.45" y2="40.70" stroke="#000" stroke-width="1.2"/>
<line x1="466.59" y1="138.40" x2="466.59" y2="132.40" stroke="#000" stroke-width="1.2"/>
<line x1="466.59" y1="34.70" x2="466.59" y2="40.70" stroke="#000" stroke-width="1.2"/>
<line x1="470.30" y1="138.40" x2="470.30" y2="132.40" stroke="#000" stroke-width="1.2"/>
<line x1="470.30" y1="34.70" x2="470.30" y2="40.70" stroke="#000" stroke-width="1.2"/>
<line x1="372.60" y1="133.85" x2="378.60" y2="133.85" stroke="#000" stroke-width="1.2"/>
<line x1="480.20" y1="133.85" x2="474.20" y2="133.85" stroke="#000" stroke-width="1.2"/>
<line x1="372.60" y1="130.28" x2="378.60" y2="130.28" stroke="#000" stroke-width="1.2"/>
<line x1="480.20" y1="130.28" x2="474.20" y2="130.28" stroke="#000" stroke-width="1.2"/>
<line x1="372.60" y1="127.27" x2="378.60" y2="127.27" stroke="#000" stroke-width="1.2"/>
<line x1="480.20" y1="127.27" x2="474.20" y2="127.27" stroke="#000" stroke-width="1.2"/>
<line x1="372.60" y1="124.66" x2="378.60" y2="124.66" stroke="#000" stroke-width="1.2"/>
<line x1="480.20" y1="124.66" x2="474.20" y2="124.66" stroke="#000" stroke-width="1.2"/>
<line x1="372.60" y1="122.36" x2="378.60" y2="122.36" stroke="#000" stroke-width="1.2"/>
<line x1="480.20" y1="122.36" x2="474.20" y2="122.36" stroke="#000" stroke-width="1.2"/>
<line x1="372.60" y1="120.30" x2="378.60" y2="120.30" stroke="#000" stroke-width="1.2"/>
<line x1="480.20" y1="120.30" x2="474.20" y2="120.30" stroke="#000" stroke-width="1.2"/>
<line x1="372.60" y1="106.75" x2="378.60" y2="106.75" stroke="#000" stroke-width="1.2"/>
<line x1="480.20" y1="106.75" x2="474.20" y2="106.75" stroke="#000" stroke-width="1.2"/>
<line x1="372.60" y1="98.83" x2="378.60" y2="98.83" stroke="#000" stroke-width="1.2"/>
<line x1="480.20" y1="98.83" x2="474.20" y2="98.83" stroke="#000" stroke-width="1.2"/>
<line x1="372.60" y1="93.21" x2="378.60" y2="93.21" stroke="#000" stroke-width="1.2"/>
<line x1="480.20" y1="93.21" x2="474.20" y2="93.21" stroke="#000" stroke-width="1.2"/>
<line x1="372.60" y1="88.85" x2="378.60" y2="88.85" stroke="#000" stroke-width="1.2"/>
<line x1="480.20" y1="88.85" x2="474.20" y2="88.85" stroke="#000" stroke-width="1.2"/>
<line x1="372.60" y1="85.28" x2="378.60" y2="85.28" stroke="#000" stroke-width="1.2"/>
<line x1="480.20" y1="85.28" x2="474.20" y2="85.28" stroke="#000" stroke-width="1.2"/>
<line x1="372.60" y1="82.27" x2="378.60" y2="82.27" stroke="#000" stroke-width="1.2"/>
<line x1="480.20" y1="82.27" x2="474.20" y2="82.27" stroke="#000" stroke-width="1.2"/>
<line x1="372.60" y1="79.66" x2="378.60" y2="79.66" stroke="#000" stroke-width="1.2"/>
<line x1="480.20" y1="79.66" x2="474.20" y2="79.66" stroke="#000" stroke-width="1.2"/>
<line x1="372.60" y1="77.36" x2="378.60" y2="77.36" stroke="#000" stroke-width="1.2"/>
<line x1="480.20" y1="77.36" x2="474.20" y2="77.36" stroke="#000" stroke-width="1.2"/>
<line x1="372.60" y1="75.30" x2="378.60" y2="75.30" stroke="#000" stroke-width="1.2"/>
<line x1="480.20" y1="75.30" x2="474.20" y2="75.30" stroke="#000" stroke-width="1.2"/>
<line x1="372.60" y1="61.75" x2="378.60" y2="61.75" stroke="#000" stroke-width="1.2"/>
<line x1="480.20" y1="61.75" x2="474.20" y2="61.75" stroke="#000" stroke-width="1.2"/>
<line x1="372.60" y1="53.83" x2="378.60" y2="53.83" stroke="#000" stroke-width="1.2"/>
<line x1="480.20" y1="53.83" x2="474.20" y2="53.83" stroke="#000" stroke-width="1.2"/>
<line x1="372.60" y1="48.21" x2="378.60" y2="48.21" stroke="#000" stroke-width="1.2"/>
<line x1="480.20" y1="48.21" x2="474.20" y2="48.21" stroke="#000" stroke-width="1.2"/>
<line x1="372.60" y1="43.85" x2="378.60" y2="43.85" stroke="#000" stroke-width="1.2"/>
<line x1="480.20" y1="43.85" x2="474.20" y2="43.85" stroke="#000" stroke-width="1.2"/>
<line x1="372.60" y1="40.28" x2="378.60" y2="40.28" stroke="#000" stroke-width="1.2"/>
<line x1="480.20" y1="40.28" x2="474.20" y2="40.28" stroke="#000" stroke-width="1.2"/>
<line x1="372.60" y1="37.27" x2="378.60" y2="37.27" stroke="#000" stroke-width="1.2"/>
<line x1="480.20" y1="37.27" x2="474.20" y2="37.27" stroke="#000" stroke-width="1.2"/>
<text x="362.60" y="82.60" font-size="17" text-anchor="end" font-family='"Liberation Sans", sans-serif'>10<tspan font-size="13.600000000000001" dy="-8.70">-2</tspan></text>
<text x="362.60" y="127.60" font-size="17" text-anchor="end" font-family='"Liberation Sans", sans-serif'>10<tspan font-size="13.600000000000001" dy="-8.70">-3</tspan></text>
<text x="389.10" y="162.90" font-size="17" text-anchor="middle" font-family='"Liberation Sans", sans-serif'>10<tspan font-size="13.600000000000001" dy="-8.70">-1</tspan></text>
<text x="471.70" y="162.90" font-size="17" text-anchor="middle" font-family='"Liberation Sans", sans-serif'>10<tspan font-size="13.600000000000001" dy="-8.70">0</tspan></text>
<text x="426.40" y="170.30" font-size="17" text-anchor="middle" font-family='"Liberation Sans", sans-serif' >F</text>
<text x="400.00" y="72.40" font-size="20" text-anchor="middle" font-family='"Liberation Serif", serif' >α</text>
<g clip-path="url(#cr)">
<path d="M574.21 367.75 L574.30 356.65 L574.41 341.19 L574.55 322.72 L574.70 302.58 L574.86 282.10 L575.01 262.62 L575.16 245.48 L575.28 232.02 L575.39 222.09 L575.50 214.36 L575.60 208.38 L575.69 203.69 L575.78 199.85 L575.87 196.40 L575.96 192.90 L576.04 188.89 L576.12 184.64 L576.19 180.70 L576.27 177.04 L576.33 173.61 L576.40 170.36 L576.47 167.26 L576.54 164.27 L576.61 161.33 L576.68 158.56 L576.75 156.05 L576.82 153.71 L576.89 151.47 L576.96 149.28 L577.03 147.05 L577.10 144.71 L577.17 142.19 L577.24 139.43 L577.31 136.48 L577.38 133.42 L577.46 130.33 L577.53 127.28 L577.60 124.35 L577.67 121.63 L577.74 119.19 L577.81 116.99 L577.88 114.94 L577.96 113.05 L578.03 111.30 L578.10 109.70 L578.17 108.25 L578.22 106.95 L578.27 105.79 L578.31 104.89 L578.33 104.28 L578.35 103.89 L578.36 103.61 L578.37 103.36 L578.38 103.04 L578.40 102.58 L578.43 101.87 L578.47 100.90 L578.52 99.73 L578.58 98.44 L578.64 97.07 L578.70 95.69 L578.76 94.35 L578.82 93.12 L578.87 92.05 L578.91 91.17 L578.95 90.44 L578.98 89.80 L579.02 89.21 L579.05 88.62 L579.09 87.98 L579.13 87.22 L579.18 86.31 L579.25 85.20 L579.31 83.92 L579.39 82.52 L579.47 81.07 L579.55 79.63 L579.63 78.26 L579.71 77.01 L579.78 75.94 L579.86 75.07 L579.94 74.31 L580.02 73.67 L580.09 73.10 L580.17 72.58 L580.25 72.10 L580.32 71.61 L580.38 71.11 L580.44 70.60 L580.49 70.12 L580.54 69.66 L580.59 69.22 L580.63 68.80 L580.67 68.39 L580.72 68.00 L580.76 67.61 L580.80 67.24 L580.83 66.90 L580.87 66.58 L580.90 66.26 L580.93 65.96 L580.97 65.65 L581.00 65.33 L581.04 64.99 L581.08 64.62 L581.12 64.24 L581.16 63.84 L581.20 63.44 L581.25 63.04 L581.29 62.67 L581.34 62.32 L581.39 62.01 L581.44 61.74 L581.49 61.49 L581.54 61.27 L581.59 61.06 L581.65 60.88 L581.71 60.70 L581.77 60.54 L581.83 60.39 L581.89 60.24 L581.95 60.10 L582.02 59.98 L582.09 59.86 L582.16 59.77 L582.23 59.70 L582.29 59.65 L582.36 59.64 L582.43 59.65 L582.50 59.70 L582.56 59.77 L582.63 59.86 L582.70 59.98 L582.77 60.10 L582.83 60.24 L582.90 60.39 L582.96 60.54 L583.02 60.70 L583.08 60.88 L583.14 61.06 L583.20 61.27 L583.25 61.49 L583.31 61.74 L583.37 62.01 L583.43 62.32 L583.48 62.67 L583.54 63.04 L583.60 63.44 L583.65 63.84 L583.71 64.24 L583.76 64.62 L583.81 64.99 L583.86 65.33 L583.90 65.65 L583.94 65.96 L583.98 66.26 L584.02 66.58 L584.06 66.90 L584.11 67.24 L584.15 67.61 L584.20 68.00 L584.26 68.39 L584.31 68.80 L584.37 69.22 L584.42 69.66 L584.48 70.12 L584.54 70.60 L584.59 71.11 L584.65 71.66 L584.71 72.25 L584.77 72.87 L584.83 73.51 L584.89 74.15 L584.95 74.78 L585.01 75.38 L585.07 75.94 L585.13 76.46 L585.18 76.94 L585.24 77.40 L585.30 77.84 L585.36 78.28 L585.42 78.73 L585.48 79.18 L585.54 79.67 L585.60 80.19 L585.66 80.76 L585.72 81.35 L585.78 81.94 L585.85 82.51 L585.91 83.05 L585.98 83.53 L586.04 83.93 L586.11 84.25 L586.18 84.49 L586.25 84.69 L586.33 84.84 L586.40 84.97 L586.47 85.10 L586.54 85.24 L586.61 85.40 L586.67 85.59 L586.73 85.81 L586.78 86.04 L586.84 86.27 L586.89 86.47 L586.94 86.63 L586.99 86.74 L587.05 86.78 L587.10 86.75 L587.16 86.66 L587.21 86.52 L587.26 86.34 L587.31 86.13 L587.37 85.89 L587.43 85.65 L587.49 85.40 L587.55 85.17 L587.60 84.95 L587.66 84.74 L587.72 84.50 L587.78 84.21 L587.86 83.84 L587.95 83.38 L588.05 82.80 L588.19 82.05 L588.34 81.12 L588.51 80.07 L588.69 78.96 L588.87 77.85 L589.05 76.79 L589.22 75.85 L589.38 75.08 L589.52 74.48 L589.65 73.99 L589.78 73.59 L589.90 73.25 L590.02 72.97 L590.14 72.72 L590.26 72.49 L590.38 72.25 L590.51 72.01 L590.63 71.80 L590.76 71.61 L590.89 71.45 L591.01 71.32 L591.14 71.22 L591.25 71.15 L591.37 71.11 L591.47 71.11 L591.58 71.15 L591.68 71.22 L591.77 71.32 L591.86 71.44 L591.96 71.58 L592.05 71.72 L592.15 71.86 L592.25 72.02 L592.34 72.20 L592.44 72.39 L592.53 72.60 L592.63 72.81 L592.73 73.01 L592.83 73.21 L592.93 73.39 L593.04 73.56 L593.15 73.72 L593.27 73.88 L593.38 74.03 L593.50 74.18 L593.61 74.32 L593.72 74.44 L593.82 74.55 L593.92 74.66 L594.00 74.75 L594.08 74.82 L594.16 74.89 L594.24 74.96 L594.32 75.01 L594.40 75.06 L594.49 75.10 L594.60 75.14 L594.70 75.16 L594.82 75.17 L594.93 75.18 L595.05 75.19 L595.17 75.19 L595.28 75.20 L595.39 75.21 L595.49 75.22 L595.58 75.21 L595.66 75.20 L595.75 75.19 L595.84 75.20 L595.93 75.22 L596.04 75.26 L596.17 75.34 L596.31 75.43 L596.47 75.51 L596.63 75.61 L596.81 75.74 L596.99 75.90 L597.18 76.10 L597.37 76.36 L597.56 76.70 L597.71 77.02 L597.80 77.28 L597.86 77.55 L597.94 77.90 L598.09 78.38 L598.33 79.06 L598.72 80.01 L599.30 81.30 L600.09 82.98 L601.07 85.02 L602.19 87.34 L603.41 89.86 L604.70 92.49 L606.00 95.16 L607.28 97.79 L608.50 100.30 L609.70 102.79 L610.95 105.40 L612.22 108.05 L613.48 110.70 L614.72 113.28 L615.90 115.73 L617.00 117.99 L618.00 120.00 L618.86 121.70 L619.59 123.10 L620.22 124.30 L620.81 125.38 L621.39 126.43 L622.01 127.52 L622.70 128.75 L623.50 130.20 L624.42 131.88 L625.42 133.71 L626.47 135.64 L627.57 137.64 L628.69 139.66 L629.81 141.66 L630.92 143.59 L632.00 145.40 L633.05 147.12 L634.10 148.81 L635.15 150.46 L636.20 152.06 L637.25 153.63 L638.30 155.16 L639.35 156.65 L640.40 158.10 L641.46 159.52 L642.52 160.91 L643.58 162.26 L644.64 163.57 L645.71 164.83 L646.77 166.05 L647.84 167.20 L648.90 168.30 L649.96 169.33 L651.03 170.30 L652.09 171.21 L653.16 172.08 L654.22 172.89 L655.28 173.66 L656.34 174.40 L657.40 175.10 L658.45 175.76 L659.51 176.37 L660.56 176.94 L661.61 177.46 L662.65 177.96 L663.70 178.42 L664.75 178.87 L665.80 179.30 L666.81 179.71 L667.77 180.08 L668.71 180.42 L669.66 180.74 L670.65 181.05 L671.72 181.34 L672.89 181.62 L674.20 181.90 L675.67 182.18 L677.27 182.45 L678.98 182.72 L680.76 182.98 L682.58 183.21 L684.42 183.43 L686.23 183.63 L688.00 183.80 L689.67 183.94 L691.25 184.05 L692.80 184.14 L694.37 184.21 L696.01 184.27 L697.78 184.32 L699.72 184.36 L701.90 184.40 L704.20 184.44 L706.51 184.47 L708.93 184.49 L711.51 184.51 L714.33 184.51 L717.47 184.51 L721.00 184.51 L725.00 184.50 L729.58 184.48 L734.73 184.46 L740.31 184.42 L746.19 184.38 L752.24 184.34 L758.31 184.29 L764.27 184.25 L770.00 184.20 L775.85 184.15 L782.10 184.10 L788.51 184.04 L794.81 183.98 L800.77 183.93 L806.12 183.87 L810.61 183.83 L814.00 183.80" fill="none" stroke="#ff0000" stroke-width="1.65" stroke-linejoin="round" />
<path d="M579.40 90.00 L579.48 88.43 L579.60 86.22 L579.74 83.62 L579.89 80.89 L580.05 78.26 L580.20 76.00 L580.35 74.03 L580.51 72.13 L580.68 70.34 L580.85 68.70 L581.03 67.24 L581.20 66.00 L581.38 64.94 L581.57 64.02 L581.76 63.28 L581.94 62.76 L582.13 62.49 L582.30 62.50 L582.46 62.82 L582.62 63.43 L582.77 64.28 L582.92 65.35 L583.06 66.60 L583.20 68.00 L583.33 69.60 L583.45 71.44 L583.56 73.47 L583.67 75.61 L583.79 77.81 L583.90 80.00 L584.02 82.38 L584.16 85.04 L584.29 87.75 L584.42 90.30 L584.52 92.45 L584.60 94.00" fill="none" stroke="#ff0000" stroke-width="2.0" stroke-linejoin="round" />
<path d="M580.30 92.00 L580.40 90.43 L580.53 88.22 L580.69 85.62 L580.86 82.89 L581.03 80.26 L581.20 78.00 L581.36 75.89 L581.54 73.70 L581.71 71.62 L581.89 69.85 L582.05 68.58 L582.20 68.00 L582.34 68.22 L582.46 69.11 L582.58 70.50 L582.69 72.22 L582.79 74.11 L582.90 76.00 L583.01 78.15 L583.13 80.74 L583.24 83.50 L583.35 86.15 L583.44 88.41 L583.50 90.00" fill="none" stroke="#ff0000" stroke-width="2.0" stroke-linejoin="round" />
<path d="M575.60 299.50 L575.62 296.54 L575.65 292.52 L575.69 287.72 L575.73 282.44 L575.77 276.94 L575.82 271.52 L575.86 266.44 L575.90 262.00 L575.94 258.18 L575.97 254.70 L576.00 251.46 L576.03 248.34 L576.07 245.25 L576.10 242.07 L576.15 238.69 L576.20 235.00 L576.25 231.25 L576.30 227.63 L576.35 224.00 L576.41 220.19 L576.47 216.04 L576.56 211.40 L576.67 206.10 L576.80 200.00 L576.97 192.65 L577.19 184.02 L577.43 174.56 L577.68 164.69 L577.94 154.86 L578.19 145.51 L578.41 137.08 L578.60 130.00 L578.76 124.23 L578.89 119.31 L579.01 115.12 L579.11 111.50 L579.21 108.32 L579.30 105.44 L579.40 102.71 L579.50 100.00 L579.61 97.48 L579.72 95.38 L579.83 93.58 L579.94 92.00 L580.04 90.55 L580.14 89.12 L580.22 87.64 L580.30 86.00 L580.36 84.25 L580.41 82.50 L580.44 80.75 L580.48 79.00 L580.50 77.25 L580.53 75.50 L580.56 73.75 L580.60 72.00 L580.64 70.25 L580.68 68.50 L580.73 66.75 L580.77 65.00 L580.82 63.25 L580.87 61.50 L580.93 59.75 L581.00 58.00" fill="none" stroke="#00b000" stroke-width="1.9" stroke-linejoin="round" />
<path d="M581.00 58.00 L581.07 56.21 L581.15 54.38 L581.23 52.52 L581.32 50.67 L581.42 48.86 L581.53 47.13 L581.65 45.50 L581.80 44.00 L581.97 42.54 L582.18 41.04 L582.40 39.58 L582.63 38.23 L582.87 37.06 L583.10 36.13 L583.31 35.52 L583.50 35.30 L583.67 35.50 L583.83 36.08 L583.99 36.97 L584.13 38.11 L584.27 39.44 L584.39 40.90 L584.50 42.44 L584.60 44.00 L584.68 45.49 L584.75 46.92 L584.80 48.41 L584.84 50.04 L584.87 51.92 L584.91 54.14 L584.95 56.80 L585.00 60.00" fill="none" stroke="#00b000" stroke-width="2.1" stroke-dasharray="4.1 1.65" stroke-linejoin="round" />
<path d="M585.00 60.00 L585.06 63.85 L585.11 68.31 L585.17 73.24 L585.23 78.50 L585.29 83.95 L585.36 89.44 L585.43 94.84 L585.50 100.00 L585.58 105.10 L585.67 110.35 L585.76 115.66 L585.86 120.94 L585.95 126.10 L586.04 131.05 L586.13 135.72 L586.20 140.00" fill="none" stroke="#00b000" stroke-width="1.9" stroke-linejoin="round" />
<path d="M586.20 140.00 L586.26 144.25 L586.32 148.71 L586.37 153.11 L586.42 157.19 L586.46 160.68 L586.51 163.32 L586.55 164.85 L586.60 165.00 L586.65 163.56 L586.70 160.70 L586.75 156.71 L586.80 151.88 L586.85 146.49 L586.90 140.86 L586.95 135.26 L587.00 130.00" fill="none" stroke="#00b000" stroke-width="1.65" stroke-dasharray="4.1 1.65" stroke-linejoin="round" />
<path d="M587.00 130.00 L587.05 124.75 L587.09 119.09 L587.13 113.17 L587.18 107.15 L587.22 101.17 L587.27 95.39 L587.33 89.95 L587.40 85.00 L587.48 80.21" fill="none" stroke="#00b000" stroke-width="1.9" stroke-linejoin="round" />
<path d="M587.48 80.21 L587.57 75.29 L587.66 70.47 L587.76 65.96 L587.87 62.00 L587.98 58.80 L588.09 56.59 L588.20 55.60 L588.32 55.90 L588.44 57.32 L588.57 59.68 L588.70 62.84 L588.83 66.61 L588.96 70.84 L589.08 75.36 L589.20 80.00" fill="none" stroke="#00b000" stroke-width="1.9" stroke-linejoin="round" />
<path d="M589.20 80.00 L589.31 85.03 L589.42 90.70 L589.52 96.88 L589.62 103.40 L589.72 110.12 L589.81 116.90 L589.91 123.58 L590.00 130.00" fill="none" stroke="#00b000" stroke-width="1.9" stroke-linejoin="round" />
<path d="M590.00 130.00 L590.10 136.47 L590.19 143.26 L590.29 150.18 L590.38 157.03 L590.47 163.63 L590.56 169.79 L590.63 175.31 L590.70 180.00 L590.76 184.12 L590.80 187.95 L590.84 191.36 L590.88 194.22 L590.91 196.39 L590.93 197.75 L590.97 198.17 L591.00 197.50 L591.04 195.50 L591.07 192.17 L591.10 187.80 L591.14 182.66 L591.17 177.03 L591.21 171.19 L591.25 165.42 L591.30 160.00" fill="none" stroke="#00b000" stroke-width="1.65" stroke-dasharray="4.1 1.65" stroke-linejoin="round" />
<path d="M591.30 160.00 L591.35 154.55 L591.41 148.63 L591.47 142.47 L591.54 136.25 L591.60 130.19 L591.67 124.49 L591.74 119.36 L591.80 115.00 L591.86 111.34 L591.92 108.15 L591.98 105.41 L592.04 103.09 L592.10 101.17 L592.16 99.61 L592.23 98.40 L592.30 97.50" fill="none" stroke="#00b000" stroke-width="1.9" stroke-linejoin="round" />
<path d="M592.30 97.50 L592.37 97.01 L592.43 96.99 L592.50 97.37 L592.56 98.09 L592.64 99.08 L592.74 100.28 L592.85 101.60 L593.00 103.00 L593.18 104.60 L593.40 106.51 L593.63 108.66 L593.89 110.97 L594.15 113.34 L594.41 115.69 L594.66 117.94 L594.90 120.00 L595.12 121.90 L595.34 123.73 L595.55 125.51 L595.76 127.25 L595.97 128.96 L596.18 130.64 L596.39 132.32 L596.60 134.00 L596.82 135.76 L597.06 137.62 L597.31 139.52 L597.56 141.38 L597.79 143.12 L597.99 144.69 L598.17 146.00 L598.30 147.00" fill="none" stroke="#00b000" stroke-width="1.65" stroke-dasharray="4.1 1.65" stroke-linejoin="round" />
<path d="M598.30 147.00 L598.33 147.82 L598.37 148.70 L598.43 149.74 L598.48 151.00 L598.54 152.58 L598.60 154.55 L598.65 156.99 L598.70 160.00 L598.74 163.50 L598.78 167.40 L598.82 171.70 L598.85 176.44 L598.88 181.62 L598.92 187.26 L598.96 193.38 L599.00 200.00 L599.05 207.70 L599.09 216.70 L599.14 226.51 L599.19 236.62 L599.25 246.53 L599.30 255.73 L599.35 263.72 L599.40 270.00 L599.45 274.62 L599.50 278.09 L599.55 280.58 L599.60 282.25 L599.65 283.26 L599.70 283.78 L599.75 283.97 L599.80 284.00 L599.85 283.97 L599.90 283.78 L599.94 283.26 L599.99 282.25 L600.04 280.58 L600.09 278.09 L600.14 274.62 L600.20 270.00 L600.26 263.66 L600.32 255.50 L600.38 246.09 L600.45 236.00 L600.52 225.78 L600.60 216.00 L600.69 207.22 L600.80 200.00 L600.91 194.20 L601.03 189.23 L601.15 184.96 L601.28 181.28 L601.43 178.06 L601.59 175.19 L601.78 172.54 L602.00 170.00 L602.26 167.61 L602.56 165.51 L602.89 163.71 L603.23 162.22 L603.58 161.04 L603.91 160.19 L604.23 159.67 L604.50 159.50 L604.73 159.78 L604.94 160.55 L605.13 161.72 L605.31 163.19 L605.47 164.85 L605.64 166.60 L605.81 168.35 L606.00 170.00 L606.20 171.78 L606.40 173.88 L606.61 176.16 L606.82 178.44 L607.02 180.57 L607.23 182.40 L607.42 183.76 L607.60 184.50 L607.77 184.52 L607.93 183.93 L608.08 182.87 L608.22 181.51 L608.37 179.99 L608.51 178.47 L608.65 177.09 L608.80 176.00 L608.95 175.07 L609.09 174.09 L609.24 173.11 L609.38 172.20 L609.53 171.41 L609.68 170.79 L609.84 170.40 L610.00 170.30 L610.17 170.54 L610.35 171.10 L610.54 171.90 L610.72 172.87 L610.92 173.94 L611.11 175.03 L611.31 176.07 L611.50 177.00 L611.69 177.91 L611.89 178.91 L612.08 179.94 L612.28 180.96 L612.47 181.91 L612.68 182.74 L612.88 183.38 L613.10 183.80 L613.32 183.94 L613.54 183.83 L613.76 183.54 L613.99 183.12 L614.22 182.65 L614.47 182.18 L614.73 181.78 L615.00 181.50 L615.28 181.31 L615.56 181.14 L615.84 180.98 L616.14 180.86 L616.46 180.76 L616.81 180.70 L617.18 180.67 L617.60 180.70 L618.04 180.79 L618.51 180.93 L618.99 181.13 L619.51 181.36 L620.06 181.60 L620.65 181.85 L621.30 182.09 L622.00 182.30 L622.70 182.49 L623.36 182.68 L624.03 182.86 L624.76 183.04 L625.61 183.22 L626.61 183.41 L627.83 183.60 L629.30 183.80 L630.99 184.02 L632.84 184.27 L634.85 184.52 L637.05 184.78 L639.44 185.03 L642.04 185.26 L644.85 185.45 L647.90 185.60 L650.57 185.70 L652.59 185.77 L654.47 185.81 L656.74 185.83 L659.91 185.83 L664.49 185.82 L671.02 185.81 L680.00 185.80 L692.79 185.78 L709.48 185.75 L728.68 185.71 L749.01 185.66 L769.09 185.61 L787.53 185.57 L802.97 185.53 L814.00 185.50" fill="none" stroke="#00b000" stroke-width="1.65" stroke-dasharray="4.1 1.65" stroke-linejoin="round" />
<path d="M573.59 367.75 L573.67 357.36 L573.79 342.92 L573.93 325.67 L574.08 306.84 L574.23 287.68 L574.39 269.42 L574.53 253.29 L574.66 240.55 L574.77 231.03 L574.87 223.49 L574.97 217.53 L575.07 212.75 L575.16 208.75 L575.25 205.13 L575.33 201.48 L575.41 197.41 L575.49 193.16 L575.57 189.23 L575.64 185.57 L575.71 182.14 L575.78 178.89 L575.84 175.79 L575.91 172.80 L575.98 169.86 L576.05 167.09 L576.12 164.57 L576.19 162.23 L576.26 160.00 L576.33 157.81 L576.40 155.57 L576.47 153.23 L576.55 150.71 L576.62 147.96 L576.69 145.01 L576.76 141.95 L576.83 138.85 L576.90 135.81 L576.97 132.88 L577.04 130.16 L577.11 127.72 L577.18 125.52 L577.26 123.47 L577.33 121.57 L577.40 119.83 L577.47 118.23 L577.54 116.78 L577.60 115.47 L577.65 114.32 L577.68 113.42 L577.71 112.81 L577.72 112.41 L577.73 112.14 L577.74 111.88 L577.75 111.57 L577.77 111.11 L577.80 110.40 L577.85 109.42 L577.90 108.26 L577.95 106.97 L578.01 105.60 L578.08 104.22 L578.14 102.88 L578.19 101.65 L578.24 100.58 L578.29 99.69 L578.32 98.96 L578.36 98.33 L578.39 97.74 L578.43 97.15 L578.46 96.50 L578.51 95.75 L578.56 94.84 L578.62 93.73 L578.69 92.44 L578.76 91.05 L578.84 89.60 L578.92 88.16 L579.00 86.78 L579.08 85.53 L579.16 84.47 L579.23 83.59 L579.31 82.84 L579.39 82.19 L579.47 81.62 L579.55 81.11 L579.62 80.62 L579.69 80.14 L579.75 79.64 L579.81 79.13 L579.87 78.65 L579.92 78.19 L579.96 77.75 L580.01 77.33 L580.05 76.92 L580.09 76.52 L580.13 76.14 L580.17 75.77 L580.21 75.43 L580.24 75.10 L580.27 74.79 L580.31 74.48 L580.34 74.17 L580.38 73.85 L580.41 73.51 L580.45 73.15 L580.49 72.76 L580.54 72.37 L580.58 71.96 L580.62 71.57 L580.67 71.20 L580.71 70.85 L580.76 70.54 L580.81 70.27 L580.86 70.02 L580.91 69.79 L580.97 69.59 L581.02 69.40 L581.08 69.23 L581.14 69.07 L581.20 68.92 L581.26 68.77 L581.33 68.63 L581.39 68.50 L581.46 68.39 L581.53 68.30 L581.60 68.22 L581.67 68.18 L581.74 68.16 L581.80 68.18 L581.87 68.22 L581.94 68.30 L582.01 68.39 L582.07 68.50 L582.14 68.63 L582.21 68.77 L582.27 68.92 L582.33 69.07 L582.39 69.23 L582.45 69.40 L582.51 69.59 L582.57 69.79 L582.63 70.02 L582.68 70.27 L582.74 70.54 L582.80 70.85 L582.86 71.20 L582.91 71.57 L582.97 71.96 L583.03 72.37 L583.08 72.76 L583.13 73.15 L583.18 73.51 L583.23 73.85 L583.27 74.17 L583.31 74.48 L583.36 74.79 L583.40 75.10 L583.44 75.43 L583.48 75.77 L583.53 76.14 L583.58 76.52 L583.63 76.92 L583.69 77.33 L583.74 77.75 L583.80 78.19 L583.85 78.65 L583.91 79.13 L583.97 79.64 L584.03 80.19 L584.08 80.78 L584.14 81.40 L584.20 82.04 L584.26 82.68 L584.32 83.31 L584.38 83.91 L584.44 84.47 L584.50 84.99 L584.56 85.47 L584.62 85.93 L584.67 86.37 L584.73 86.81 L584.79 87.25 L584.85 87.71 L584.91 88.20 L584.97 88.71 L585.03 89.24 L585.09 89.79 L585.15 90.35 L585.21 90.90 L585.28 91.44 L585.34 91.96 L585.42 92.46 L585.49 92.92 L585.58 93.38 L585.67 93.82 L585.77 94.25 L585.86 94.66 L585.95 95.05 L586.03 95.43 L586.11 95.79 L586.17 96.15 L586.24 96.53 L586.29 96.91 L586.34 97.27 L586.39 97.58 L586.44 97.83 L586.49 97.99 L586.55 98.05 L586.60 97.98 L586.66 97.81 L586.71 97.54 L586.77 97.21 L586.82 96.85 L586.88 96.47 L586.93 96.11 L586.99 95.79 L587.04 95.54 L587.07 95.36 L587.10 95.20 L587.14 95.02 L587.18 94.79 L587.24 94.46 L587.32 93.98 L587.43 93.33 L587.58 92.42 L587.76 91.27 L587.97 89.96 L588.20 88.56 L588.42 87.15 L588.64 85.80 L588.84 84.60 L589.00 83.61 L589.13 82.82 L589.25 82.16 L589.34 81.61 L589.43 81.13 L589.50 80.72 L589.58 80.35 L589.66 79.99 L589.76 79.64 L589.86 79.29 L589.96 78.99 L590.06 78.72 L590.17 78.49 L590.27 78.27 L590.37 78.08 L590.48 77.91 L590.57 77.75 L590.67 77.60 L590.76 77.47 L590.85 77.37 L590.94 77.28 L591.03 77.21 L591.12 77.15 L591.21 77.12 L591.30 77.09 L591.39 77.08 L591.48 77.09 L591.56 77.11 L591.65 77.15 L591.74 77.21 L591.84 77.29 L591.95 77.38 L592.07 77.49 L592.21 77.63 L592.37 77.80 L592.53 77.99 L592.71 78.20 L592.88 78.41 L593.06 78.62 L593.23 78.82 L593.39 78.99 L593.54 79.16 L593.70 79.33 L593.85 79.50 L593.99 79.65 L594.14 79.80 L594.29 79.92 L594.44 80.01 L594.58 80.07 L594.73 80.08 L594.88 80.06 L595.04 80.00 L595.19 79.92 L595.34 79.83 L595.49 79.74 L595.63 79.66 L595.78 79.60 L595.93 79.55 L596.08 79.49 L596.22 79.43 L596.37 79.38 L596.51 79.33 L596.65 79.29 L596.79 79.26 L596.92 79.25 L597.03 79.24 L597.12 79.24 L597.21 79.24 L597.30 79.25 L597.38 79.28 L597.49 79.34 L597.61 79.42 L597.75 79.54 L597.82 79.60 L597.76 79.54 L597.66 79.45 L597.60 79.41 L597.67 79.51 L597.95 79.84 L598.53 80.47 L599.50 81.50 L600.97 83.04 L602.91 85.08 L605.18 87.45 L607.65 90.03 L610.19 92.68 L612.64 95.25 L614.89 97.61 L616.80 99.60 L618.38 101.25 L619.76 102.71 L620.99 104.01 L622.12 105.20 L623.20 106.33 L624.25 107.44 L625.34 108.58 L626.50 109.80 L627.72 111.08 L628.96 112.38 L630.20 113.69 L631.44 114.99 L632.67 116.27 L633.87 117.52 L635.05 118.74 L636.20 119.90 L637.31 121.00 L638.38 122.05 L639.42 123.07 L640.44 124.05 L641.46 125.01 L642.46 125.97 L643.48 126.93 L644.50 127.90 L645.49 128.85 L646.43 129.75 L647.35 130.63 L648.27 131.51 L649.24 132.43 L650.28 133.39 L651.42 134.44 L652.70 135.60 L654.17 136.91 L655.81 138.36 L657.58 139.91 L659.41 141.51 L661.25 143.11 L663.03 144.66 L664.70 146.10 L666.20 147.40 L667.55 148.56 L668.81 149.65 L669.99 150.65 L671.11 151.60 L672.16 152.49 L673.15 153.33 L674.09 154.13 L675.00 154.90 L675.84 155.62 L676.59 156.26 L677.27 156.85 L677.91 157.40 L678.52 157.92 L679.12 158.44 L679.74 158.96 L680.40 159.50 L681.06 160.04 L681.68 160.54 L682.30 161.03 L682.92 161.53 L683.57 162.03 L684.27 162.57 L685.04 163.15 L685.90 163.80 L686.83 164.50 L687.81 165.24 L688.84 166.02 L689.93 166.84 L691.09 167.68 L692.31 168.56 L693.61 169.47 L695.00 170.40 L696.52 171.39 L698.18 172.45 L699.95 173.57 L701.78 174.70 L703.62 175.83 L705.43 176.92 L707.17 177.95 L708.80 178.90 L710.34 179.77 L711.86 180.60 L713.34 181.38 L714.77 182.12 L716.15 182.83 L717.47 183.49 L718.72 184.11 L719.90 184.70 L720.95 185.23 L721.86 185.68 L722.67 186.09 L723.44 186.46 L724.21 186.82 L725.02 187.18 L725.94 187.57 L727.00 188.00 L728.18 188.47 L729.42 188.96 L730.72 189.46 L732.09 189.97 L733.53 190.49 L735.04 191.00 L736.63 191.51 L738.30 192.00 L740.08 192.49 L741.99 192.98 L743.98 193.48 L746.04 193.97 L748.14 194.44 L750.26 194.89 L752.35 195.32 L754.40 195.70 L756.42 196.05 L758.45 196.36 L760.47 196.64 L762.50 196.91 L764.53 197.15 L766.55 197.38 L768.58 197.59 L770.60 197.80 L772.54 198.00 L774.37 198.18 L776.15 198.34 L777.96 198.49 L779.85 198.63 L781.89 198.76 L784.15 198.88 L786.70 199.00 L789.76 199.11 L793.38 199.21 L797.32 199.30 L801.36 199.38 L805.27 199.45 L808.83 199.51 L811.82 199.56 L814.00 199.60" fill="none" stroke="#ff0000" stroke-width="1.65" stroke-linejoin="round" />
<path d="M592.40 112.00 L592.45 111.06 L592.51 109.71 L592.58 108.09 L592.66 106.34 L592.74 104.62 L592.83 103.06 L592.92 101.80 L593.00 101.00 L593.08 100.64 L593.16 100.58 L593.25 100.77 L593.33 101.16 L593.42 101.68 L593.51 102.28 L593.60 102.90 L593.70 103.50 L593.80 104.08 L593.89 104.69 L593.98 105.36 L594.08 106.09 L594.19 106.91 L594.31 107.82 L594.44 108.85 L594.60 110.00 L594.78 111.31 L594.99 112.77 L595.21 114.35 L595.44 116.03 L595.69 117.77 L595.93 119.53 L596.17 121.28 L596.40 123.00 L596.63 124.71 L596.86 126.45 L597.10 128.22 L597.33 130.00 L597.56 131.78 L597.79 133.55 L598.00 135.29 L598.20 137.00 L598.39 138.62 L598.58 140.16 L598.76 141.64 L598.94 143.12 L599.10 144.66 L599.25 146.28 L599.38 148.05 L599.50 150.00 L599.59 151.96 L599.67 153.80 L599.72 155.67 L599.77 157.69 L599.80 160.00 L599.84 162.73 L599.87 166.02 L599.90 170.00 L599.93 174.60 L599.96 179.64 L599.99 185.15 L600.01 191.12 L600.03 197.59 L600.05 204.55 L600.08 212.01 L600.10 220.00 L600.12 229.28 L600.13 240.17 L600.14 252.01 L600.15 264.12 L600.17 275.85 L600.19 286.52 L600.24 295.46 L600.30 302.00 L600.39 306.59 L600.51 310.04 L600.64 312.27 L600.78 313.19 L600.93 312.71 L601.07 310.74 L601.19 307.20 L601.30 302.00 L601.38 294.07 L601.44 283.05 L601.49 269.87 L601.54 255.50 L601.58 240.88 L601.64 226.95 L601.71 214.68 L601.80 205.00 L601.91 197.75 L602.03 191.96 L602.16 187.36 L602.31 183.69 L602.46 180.68 L602.63 178.07 L602.81 175.60 L603.00 173.00 L603.21 170.39 L603.45 168.05 L603.71 166.02 L603.97 164.31 L604.24 162.94 L604.51 161.91 L604.76 161.26 L605.00 161.00 L605.22 161.25 L605.43 162.06 L605.64 163.31 L605.84 164.88 L606.03 166.64 L606.22 168.50 L606.41 170.32 L606.60 172.00 L606.79 173.76 L606.97 175.80 L607.14 178.00 L607.32 180.19 L607.49 182.23 L607.66 183.98 L607.83 185.28 L608.00 186.00 L608.17 186.04 L608.33 185.50 L608.49 184.52 L608.66 183.25 L608.82 181.82 L608.98 180.38 L609.14 179.05 L609.30 178.00 L609.46 177.07 L609.62 176.05 L609.78 175.03 L609.94 174.06 L610.11 173.21 L610.27 172.54 L610.43 172.11 L610.60 172.00 L610.77 172.26 L610.94 172.85 L611.11 173.69 L611.29 174.72 L611.46 175.84 L611.64 176.98 L611.82 178.06 L612.00 179.00 L612.18 179.88 L612.34 180.82 L612.51 181.78 L612.68 182.72 L612.86 183.60 L613.05 184.38 L613.26 185.03 L613.50 185.50 L613.76 185.76 L614.04 185.82 L614.34 185.74 L614.66 185.56 L614.98 185.35 L615.32 185.15 L615.66 185.01 L616.00 185.00 L616.30 185.07 L616.54 185.16 L616.77 185.28 L617.01 185.44 L617.32 185.63 L617.73 185.87 L618.27 186.16 L619.00 186.50 L619.88 186.92 L620.87 187.41 L621.96 187.97 L623.18 188.56 L624.51 189.18 L625.97 189.80 L627.57 190.42 L629.30 191.00 L631.18 191.58 L633.22 192.17 L635.39 192.78 L637.69 193.38 L640.10 193.97 L642.61 194.52 L645.22 195.04 L647.90 195.50 L650.72 195.91 L653.70 196.27 L656.82 196.60 L660.01 196.89 L663.25 197.17 L666.49 197.42 L669.69 197.66 L672.80 197.90 L675.71 198.12 L678.41 198.32 L681.02 198.50 L683.66 198.67 L686.43 198.83 L689.47 198.98 L692.89 199.14 L696.80 199.30 L701.07 199.47 L705.53 199.65 L710.24 199.83 L715.27 200.01 L720.70 200.18 L726.58 200.33 L732.99 200.48 L740.00 200.60 L748.28 200.70 L758.07 200.79 L768.75 200.87 L779.70 200.93 L790.32 200.98 L799.98 201.03 L808.08 201.07 L814.00 201.10" fill="none" stroke="#00b000" stroke-width="1.65" stroke-dasharray="4.1 1.65" stroke-linejoin="round" />
<path d="M573.30 299.50 L573.35 296.71 L573.42 293.10 L573.50 288.82 L573.59 284.00 L573.68 278.77 L573.79 273.27 L573.89 267.64 L574.00 262.00 L574.11 256.18 L574.22 249.97 L574.34 243.47 L574.47 236.78 L574.60 229.99 L574.73 223.20 L574.86 216.50 L575.00 210.00 L575.14 203.59 L575.29 197.12 L575.44 190.66 L575.59 184.25 L575.75 177.93 L575.90 171.75 L576.05 165.76 L576.20 160.00 L576.34 154.49 L576.48 149.18 L576.61 144.05 L576.74 139.06 L576.88 134.19 L577.01 129.41 L577.15 124.69 L577.30 120.00 L577.45 115.28 L577.60 110.52 L577.76 105.81 L577.91 101.19 L578.07 96.73 L578.24 92.51 L578.42 88.58 L578.60 85.00 L578.79 81.77 L578.99 78.82 L579.19 76.13 L579.40 73.69 L579.62 71.47 L579.84 69.46 L580.07 67.64 L580.30 66.00 L580.55 64.46 L580.82 63.02 L581.11 61.74 L581.39 60.69 L581.68 59.92 L581.94 59.51 L582.19 59.51 L582.40 60.00 L582.58 61.01 L582.74 62.48 L582.87 64.38 L582.99 66.62 L583.10 69.17 L583.20 71.95 L583.30 74.92 L583.40 78.00 L583.49 81.21 L583.58 84.59 L583.65 88.18 L583.72 92.00 L583.79 96.07 L583.86 100.41 L583.93 105.04 L584.00 110.00 L584.08 115.48 L584.15 121.55 L584.23 128.02 L584.31 134.71 L584.38 141.44 L584.46 148.02 L584.53 154.27 L584.60 160.00 L584.67 165.65 L584.73 171.57 L584.80 177.48 L584.86 183.09 L584.92 188.09 L584.98 192.21 L585.04 195.14 L585.10 196.60 L585.15 196.25 L585.20 194.24 L585.24 190.96 L585.28 186.84 L585.33 182.27 L585.37 177.67 L585.43 173.44 L585.50 170.00 L585.58 167.12 L585.66 164.30 L585.75 161.58 L585.85 158.96 L585.95 156.48 L586.06 154.14 L586.18 151.98 L586.30 150.00 L586.43 148.26 L586.58 146.77 L586.74 145.47 L586.91 144.31 L587.07 143.24 L587.23 142.20 L587.37 141.13 L587.50 140.00 L587.61 138.50 L587.72 136.55 L587.82 134.44 L587.91 132.44 L587.99 130.82 L588.07 129.85 L588.14 129.82 L588.20 131.00 L588.25 133.48 L588.30 137.05 L588.33 141.49 L588.36 146.62 L588.38 152.24 L588.41 158.14 L588.43 164.13 L588.45 170.00 L588.47 176.68 L588.49 184.75 L588.51 193.51 L588.53 202.25 L588.55 210.27 L588.56 216.88 L588.58 221.35 L588.60 223.00 L588.62 221.38 L588.64 216.96 L588.66 210.43 L588.67 202.47 L588.69 193.77 L588.71 185.00 L588.73 176.85 L588.75 170.00 L588.76 163.83 L588.77 157.44 L588.78 151.06 L588.79 144.91 L588.80 139.24 L588.82 134.28 L588.85 130.25 L588.90 127.40 L588.96 125.95 L589.04 125.78 L589.12 126.60 L589.22 128.10 L589.31 129.99 L589.41 131.97 L589.51 133.74 L589.60 135.00 L589.68 135.92 L589.76 136.86 L589.84 137.80 L589.92 138.72 L590.00 139.62 L590.09 140.47 L590.19 141.27 L590.30 142.00 L590.43 142.64 L590.56 143.21 L590.71 143.72 L590.87 144.19 L591.03 144.63 L591.19 145.07 L591.35 145.52 L591.50 146.00 L591.65 146.46 L591.81 146.86 L591.97 147.24 L592.13 147.62 L592.29 148.06 L592.44 148.58 L592.57 149.21 L592.70 150.00 L592.81 150.98 L592.91 152.14 L593.01 153.42 L593.09 154.78 L593.17 156.17 L593.25 157.54 L593.33 158.83 L593.40 160.00 L593.47 161.17 L593.54 162.45 L593.60 163.74 L593.66 164.97 L593.71 166.04 L593.77 166.88 L593.83 167.39 L593.90 167.50 L593.97 167.13 L594.03 166.33 L594.09 165.20 L594.15 163.84 L594.22 162.35 L594.30 160.81 L594.39 159.33 L594.50 158.00 L594.63 156.76 L594.79 155.48 L594.96 154.18 L595.14 152.88 L595.32 151.59 L595.49 150.34 L595.66 149.13 L595.80 148.00 L595.93 146.91 L596.04 145.83 L596.15 144.78 L596.24 143.78 L596.34 142.83 L596.43 141.96 L596.51 141.18 L596.60 140.50 L596.68 139.93 L596.75 139.44 L596.81 139.04 L596.88 138.71 L596.94 138.46 L597.01 138.28 L597.10 138.16 L597.20 138.10 L597.32 138.12 L597.46 138.24 L597.61 138.43 L597.78 138.69 L597.94 138.99 L598.10 139.32 L598.26 139.66 L598.40 140.00 L598.53 140.33 L598.66 140.66 L598.78 141.01 L598.89 141.39 L599.01 141.80 L599.13 142.27 L599.26 142.80 L599.40 143.40 L599.55 144.12 L599.71 144.97 L599.87 145.90 L600.04 146.87 L600.21 147.84 L600.38 148.76 L600.55 149.60 L600.70 150.30 L600.84 150.88 L600.95 151.38 L601.06 151.82 L601.16 152.19 L601.28 152.53 L601.42 152.83 L601.59 153.12 L601.80 153.40 L602.07 153.64 L602.39 153.83 L602.74 153.97 L603.11 154.10 L603.49 154.23 L603.86 154.37 L604.20 154.56 L604.50 154.80 L604.75 155.09 L604.96 155.39 L605.15 155.71 L605.33 156.06 L605.50 156.45 L605.70 156.88 L605.93 157.36 L606.20 157.90 L606.52 158.52 L606.89 159.23 L607.28 160.01 L607.69 160.82 L608.11 161.64 L608.53 162.44 L608.93 163.21 L609.30 163.90 L609.62 164.49 L609.88 164.97 L610.12 165.40 L610.36 165.83 L610.63 166.28 L610.96 166.82 L611.37 167.47 L611.90 168.30 L612.56 169.32 L613.32 170.49 L614.17 171.79 L615.07 173.17 L616.02 174.59 L616.97 176.01 L617.90 177.39 L618.80 178.70 L619.67 179.94 L620.55 181.17 L621.42 182.38 L622.30 183.58 L623.18 184.78 L624.05 185.98 L624.93 187.18 L625.80 188.40 L626.65 189.61 L627.47 190.80 L628.27 191.97 L629.08 193.16 L629.91 194.37 L630.78 195.62 L631.70 196.93 L632.70 198.30 L633.79 199.79 L634.98 201.40 L636.22 203.09 L637.51 204.81 L638.79 206.51 L640.06 208.14 L641.27 209.65 L642.40 211.00 L643.45 212.18 L644.45 213.23 L645.40 214.19 L646.32 215.06 L647.23 215.89 L648.14 216.69 L649.06 217.48 L650.00 218.30 L650.96 219.13 L651.93 219.94 L652.90 220.74 L653.87 221.52 L654.84 222.28 L655.80 223.01 L656.76 223.72 L657.70 224.40 L658.64 225.05 L659.57 225.68 L660.50 226.28 L661.43 226.86 L662.34 227.41 L663.24 227.96 L664.13 228.48 L665.00 229.00 L665.84 229.50 L666.63 229.97 L667.41 230.42 L668.17 230.86 L668.95 231.29 L669.75 231.72 L670.60 232.15 L671.50 232.60 L672.49 233.07 L673.56 233.56 L674.68 234.06 L675.82 234.56 L676.95 235.04 L678.05 235.50 L679.07 235.92 L680.00 236.30 L680.82 236.62 L681.54 236.90 L682.20 237.15 L682.82 237.37 L683.42 237.57 L684.04 237.77 L684.69 237.98 L685.40 238.20 L686.16 238.43 L686.95 238.66 L687.76 238.89 L688.59 239.12 L689.43 239.34 L690.28 239.57 L691.14 239.79 L692.00 240.00 L692.87 240.21 L693.77 240.42 L694.67 240.63 L695.59 240.84 L696.50 241.04 L697.41 241.23 L698.32 241.42 L699.20 241.60 L700.04 241.77 L700.82 241.93 L701.58 242.07 L702.34 242.22 L703.13 242.36 L703.99 242.50 L704.93 242.65 L706.00 242.80 L707.28 242.97 L708.79 243.15 L710.44 243.34 L712.12 243.53 L713.76 243.70 L715.24 243.86 L716.49 244.00 L717.40 244.10" fill="none" stroke="#ff0000" stroke-width="1.65" stroke-linejoin="round" />
<path d="M575.60 299.50 L575.62 296.54 L575.65 292.52 L575.69 287.72 L575.73 282.44 L575.77 276.94 L575.82 271.52 L575.86 266.44 L575.90 262.00 L575.94 258.18 L575.97 254.70 L576.00 251.46 L576.03 248.34 L576.07 245.25 L576.10 242.07 L576.15 238.69 L576.20 235.00 L576.25 231.25 L576.30 227.63 L576.35 224.00 L576.41 220.19 L576.47 216.04 L576.56 211.40 L576.67 206.10 L576.80 200.00 L576.97 192.65 L577.19 184.02 L577.43 174.56 L577.68 164.69 L577.94 154.86 L578.19 145.51 L578.41 137.08 L578.60 130.00 L578.76 124.23 L578.89 119.31 L579.01 115.12 L579.11 111.50 L579.21 108.32 L579.30 105.44 L579.40 102.71 L579.50 100.00 L579.61 97.48 L579.72 95.38 L579.83 93.58 L579.94 92.00 L580.04 90.55 L580.14 89.12 L580.22 87.64 L580.30 86.00 L580.36 84.25 L580.41 82.50 L580.44 80.75 L580.48 79.00 L580.50 77.25 L580.53 75.50 L580.56 73.75 L580.60 72.00 L580.64 70.25 L580.68 68.50 L580.73 66.75 L580.77 65.00 L580.82 63.25 L580.87 61.50 L580.93 59.75 L581.00 58.00" fill="none" stroke="#00b000" stroke-width="1.9" stroke-linejoin="round" />
<path d="M581.00 58.00 L581.07 56.21 L581.15 54.38 L581.23 52.52 L581.32 50.67 L581.42 48.86 L581.53 47.13 L581.65 45.50 L581.80 44.00 L581.97 42.54 L582.18 41.04 L582.40 39.58 L582.63 38.23 L582.87 37.06 L583.10 36.13 L583.31 35.52 L583.50 35.30 L583.67 35.50 L583.83 36.08 L583.99 36.97 L584.13 38.11 L584.27 39.44 L584.39 40.90 L584.50 42.44 L584.60 44.00 L584.68 45.49 L584.75 46.92 L584.80 48.41 L584.84 50.04 L584.87 51.92 L584.91 54.14 L584.95 56.80 L585.00 60.00" fill="none" stroke="#00b000" stroke-width="2.1" stroke-dasharray="4.1 1.65" stroke-linejoin="round" />
<path d="M587.48 80.21 L587.57 75.29 L587.66 70.47 L587.76 65.96 L587.87 62.00 L587.98 58.80 L588.09 56.59 L588.20 55.60 L588.32 55.90 L588.44 57.32 L588.57 59.68 L588.70 62.84 L588.83 66.61 L588.96 70.84 L589.08 75.36 L589.20 80.00" fill="none" stroke="#00b000" stroke-width="1.9" stroke-linejoin="round" />
<path d="M592.30 97.50 L592.37 97.01 L592.43 96.99 L592.50 97.37 L592.56 98.09 L592.64 99.08 L592.74 100.28 L592.85 101.60 L593.00 103.00 L593.18 104.60 L593.40 106.51 L593.63 108.66 L593.89 110.97 L594.15 113.34 L594.41 115.69 L594.66 117.94 L594.90 120.00 L595.12 121.90 L595.34 123.73 L595.55 125.51 L595.76 127.25 L595.97 128.96 L596.18 130.64 L596.39 132.32 L596.60 134.00 L596.82 135.76 L597.06 137.62 L597.31 139.52 L597.56 141.38 L597.79 143.12 L597.99 144.69 L598.17 146.00 L598.30 147.00" fill="none" stroke="#00b000" stroke-width="1.65" stroke-dasharray="4.1 1.65" stroke-linejoin="round" />
<path d="M574.50 300.00 L574.70 280.00 L575.20 258.00" fill="none" stroke="#00b000" stroke-width="2.2" stroke-dasharray="4.1 1.65" stroke-linejoin="round" />
<path d="M576.70 300.00 L576.73 295.74 L576.78 289.74 L576.83 282.69 L576.89 275.26 L576.95 268.14 L577.00 262.00 L577.05 256.90 L577.09 252.30 L577.14 248.00 L577.19 243.81 L577.24 239.55 L577.30 235.00 L577.37 230.23 L577.45 225.41 L577.53 220.50 L577.62 215.48 L577.71 210.32 L577.80 205.00 L577.89 199.40 L577.99 193.52 L578.09 187.50 L578.20 181.48 L578.30 175.60 L578.40 170.00 L578.51 164.36 L578.62 158.52 L578.74 152.81 L578.84 147.59 L578.93 143.21 L579.00 140.00" fill="none" stroke="#00b000" stroke-width="1.8" stroke-dasharray="4.1 1.65" stroke-linejoin="round" />
<path d="M592.20 116.00 L592.24 114.98 L592.29 113.49 L592.35 111.69 L592.41 109.78 L592.48 107.93 L592.56 106.31 L592.63 105.11 L592.70 104.50 L592.77 104.48 L592.84 104.89 L592.90 105.64 L592.98 106.66 L593.05 107.88 L593.13 109.22 L593.21 110.62 L593.30 112.00 L593.40 113.43 L593.50 115.00 L593.61 116.69 L593.72 118.47 L593.84 120.32 L593.96 122.21 L594.08 124.11 L594.20 126.00 L594.32 127.89 L594.44 129.81 L594.56 131.77 L594.69 133.75 L594.81 135.77 L594.94 137.81 L595.07 139.89 L595.20 142.00 L595.33 144.11 L595.47 146.20 L595.61 148.30 L595.74 150.44 L595.88 152.65 L596.02 154.96 L596.16 157.40 L596.30 160.00 L596.44 162.65 L596.58 165.29 L596.73 167.98 L596.87 170.81 L597.01 173.85 L597.15 177.18 L597.28 180.87 L597.40 185.00 L597.52 189.70 L597.63 194.96 L597.74 200.63 L597.84 206.56 L597.94 212.61 L598.03 218.63 L598.12 224.48 L598.20 230.00 L598.28 235.43 L598.35 241.01 L598.41 246.60 L598.47 252.06 L598.53 257.27 L598.58 262.09 L598.64 266.37 L598.70 270.00 L598.76 273.00 L598.83 275.53 L598.89 277.61 L598.95 279.25 L599.01 280.49 L599.08 281.34 L599.14 281.84 L599.20 282.00 L599.26 281.91 L599.32 281.58 L599.38 280.93 L599.44 279.88 L599.51 278.34 L599.57 276.23 L599.63 273.48 L599.70 270.00 L599.77 265.47 L599.84 259.82 L599.90 253.37 L599.98 246.44 L600.05 239.32 L600.13 232.34 L600.21 225.79 L600.30 220.00 L600.40 214.43 L600.51 208.55 L600.62 202.70 L600.74 197.19 L600.86 192.34 L600.98 188.48 L601.09 185.92 L601.20 185.00 L601.31 185.92 L601.41 188.48 L601.52 192.34 L601.62 197.19 L601.73 202.70 L601.82 208.55 L601.92 214.43 L602.00 220.00 L602.08 225.76 L602.15 232.24 L602.21 239.15 L602.28 246.19 L602.33 253.08 L602.39 259.54 L602.44 265.27 L602.50 270.00 L602.55 273.85 L602.61 277.14 L602.66 279.90 L602.71 282.12 L602.75 283.84 L602.80 285.05 L602.85 285.76 L602.90 286.00 L602.95 285.70 L603.00 284.81 L603.04 283.40 L603.09 281.50 L603.14 279.16 L603.19 276.44 L603.24 273.37 L603.30 270.00 L603.36 266.08 L603.43 261.45 L603.51 256.32 L603.58 250.88 L603.66 245.32 L603.74 239.86 L603.82 234.69 L603.90 230.00 L603.98 225.29 L604.07 220.16 L604.16 214.94 L604.25 210.00 L604.34 205.68 L604.43 202.34 L604.52 200.33 L604.60 200.00 L604.68 201.50 L604.76 204.56 L604.84 208.91 L604.92 214.25 L604.99 220.31 L605.07 226.81 L605.14 233.47 L605.20 240.00 L605.25 247.12 L605.29 255.41 L605.31 264.36 L605.34 273.50 L605.37 282.32 L605.42 290.34 L605.49 297.07 L605.60 302.00 L605.75 305.32 L605.93 307.58 L606.15 308.83 L606.38 309.12 L606.61 308.53 L606.83 307.11 L607.03 304.91 L607.20 302.00 L607.33 297.87 L607.44 292.26 L607.54 285.56 L607.62 278.19 L607.70 270.54 L607.78 263.02 L607.88 256.04 L608.00 250.00 L608.14 244.63 L608.29 239.42 L608.46 234.43 L608.63 229.74 L608.81 225.39 L608.98 221.44 L609.14 217.96 L609.30 215.00 L609.45 212.55 L609.59 210.54 L609.73 208.96 L609.86 207.80 L610.00 207.05 L610.13 206.71 L610.26 206.76 L610.40 207.20 L610.54 208.08 L610.68 209.45 L610.82 211.24 L610.96 213.42 L611.09 215.94 L611.23 218.74 L611.37 221.78 L611.50 225.00 L611.63 228.60 L611.75 232.69 L611.86 237.14 L611.98 241.82 L612.09 246.58 L612.22 251.29 L612.35 255.81 L612.50 260.00 L612.66 264.28 L612.84 268.96 L613.03 273.75 L613.23 278.33 L613.42 282.42 L613.62 285.71 L613.81 287.90 L614.00 288.70 L614.18 287.81 L614.36 285.40 L614.53 281.85 L614.71 277.52 L614.88 272.79 L615.05 268.05 L615.23 263.66 L615.40 260.00 L615.57 256.82 L615.75 253.66 L615.92 250.57 L616.10 247.60 L616.27 244.81 L616.45 242.24 L616.62 239.95 L616.80 238.00 L616.97 236.35 L617.14 234.93 L617.31 233.76 L617.48 232.83 L617.65 232.16 L617.82 231.74 L618.01 231.59 L618.20 231.70 L618.41 232.21 L618.62 233.16 L618.84 234.45 L619.07 235.96 L619.30 237.58 L619.53 239.20 L619.77 240.71 L620.00 242.00 L620.23 243.20 L620.47 244.48 L620.71 245.76 L620.94 246.99 L621.18 248.09 L621.42 249.00 L621.66 249.66 L621.90 250.00 L622.14 249.94 L622.38 249.51 L622.61 248.81 L622.85 247.92 L623.09 246.96 L623.32 246.00 L623.56 245.15 L623.80 244.50 L624.03 243.97 L624.27 243.44 L624.49 242.94 L624.73 242.49 L624.96 242.11 L625.20 241.84 L625.44 241.69 L625.70 241.70 L625.97 241.91 L626.24 242.32 L626.52 242.87 L626.81 243.52 L627.11 244.21 L627.40 244.89 L627.70 245.50 L628.00 246.00 L628.30 246.43 L628.60 246.86 L628.90 247.28 L629.21 247.66 L629.52 247.99 L629.84 248.25 L630.16 248.43 L630.50 248.50 L630.85 248.43 L631.21 248.23 L631.57 247.92 L631.94 247.55 L632.32 247.16 L632.71 246.78 L633.10 246.44 L633.50 246.20 L633.90 246.02 L634.31 245.86 L634.71 245.71 L635.13 245.60 L635.56 245.52 L635.99 245.47 L636.44 245.46 L636.90 245.50 L637.35 245.61 L637.76 245.80 L638.17 246.05 L638.60 246.32 L639.07 246.60 L639.61 246.85 L640.25 247.06 L641.00 247.20 L641.49 247.26 L641.54 247.26 L641.45 247.21 L641.54 247.14 L642.13 247.07 L643.53 247.01 L646.05 246.98 L650.00 247.00 L656.09 247.07 L664.32 247.19 L673.96 247.33 L684.26 247.49 L694.50 247.65 L703.92 247.79 L711.80 247.91 L717.40 248.00" fill="none" stroke="#00b000" stroke-width="1.65" stroke-dasharray="4.1 1.65" stroke-linejoin="round" />
</g>
<rect x="573.00" y="26.50" width="245.30" height="273.00" fill="none" stroke="#000" stroke-width="1.2"/>
<line x1="621.05" y1="299.50" x2="621.05" y2="293.50" stroke="#000" stroke-width="1.2"/>
<line x1="621.05" y1="26.50" x2="621.05" y2="32.50" stroke="#000" stroke-width="1.2"/>
<line x1="669.10" y1="299.50" x2="669.10" y2="293.50" stroke="#000" stroke-width="1.2"/>
<line x1="669.10" y1="26.50" x2="669.10" y2="32.50" stroke="#000" stroke-width="1.2"/>
<line x1="717.15" y1="299.50" x2="717.15" y2="293.50" stroke="#000" stroke-width="1.2"/>
<line x1="717.15" y1="26.50" x2="717.15" y2="32.50" stroke="#000" stroke-width="1.2"/>
<line x1="765.20" y1="299.50" x2="765.20" y2="293.50" stroke="#000" stroke-width="1.2"/>
<line x1="765.20" y1="26.50" x2="765.20" y2="32.50" stroke="#000" stroke-width="1.2"/>
<line x1="813.25" y1="299.50" x2="813.25" y2="293.50" stroke="#000" stroke-width="1.2"/>
<line x1="813.25" y1="26.50" x2="813.25" y2="32.50" stroke="#000" stroke-width="1.2"/>
<line x1="573.00" y1="299.50" x2="579.00" y2="299.50" stroke="#000" stroke-width="1.2"/>
<line x1="818.30" y1="299.50" x2="812.30" y2="299.50" stroke="#000" stroke-width="1.2"/>
<line x1="573.00" y1="278.95" x2="579.00" y2="278.95" stroke="#000" stroke-width="1.2"/>
<line x1="818.30" y1="278.95" x2="812.30" y2="278.95" stroke="#000" stroke-width="1.2"/>
<line x1="573.00" y1="266.94" x2="579.00" y2="266.94" stroke="#000" stroke-width="1.2"/>
<line x1="818.30" y1="266.94" x2="812.30" y2="266.94" stroke="#000" stroke-width="1.2"/>
<line x1="573.00" y1="258.41" x2="579.00" y2="258.41" stroke="#000" stroke-width="1.2"/>
<line x1="818.30" y1="258.41" x2="812.30" y2="258.41" stroke="#000" stroke-width="1.2"/>
<line x1="573.00" y1="251.80" x2="579.00" y2="251.80" stroke="#000" stroke-width="1.2"/>
<line x1="818.30" y1="251.80" x2="812.30" y2="251.80" stroke="#000" stroke-width="1.2"/>
<line x1="573.00" y1="246.39" x2="579.00" y2="246.39" stroke="#000" stroke-width="1.2"/>
<line x1="818.30" y1="246.39" x2="812.30" y2="246.39" stroke="#000" stroke-width="1.2"/>
<line x1="573.00" y1="241.82" x2="579.00" y2="241.82" stroke="#000" stroke-width="1.2"/>
<line x1="818.30" y1="241.82" x2="812.30" y2="241.82" stroke="#000" stroke-width="1.2"/>
<line x1="573.00" y1="237.86" x2="579.00" y2="237.86" stroke="#000" stroke-width="1.2"/>
<line x1="818.30" y1="237.86" x2="812.30" y2="237.86" stroke="#000" stroke-width="1.2"/>
<line x1="573.00" y1="234.37" x2="579.00" y2="234.37" stroke="#000" stroke-width="1.2"/>
<line x1="818.30" y1="234.37" x2="812.30" y2="234.37" stroke="#000" stroke-width="1.2"/>
<line x1="573.00" y1="231.25" x2="579.00" y2="231.25" stroke="#000" stroke-width="1.2"/>
<line x1="818.30" y1="231.25" x2="812.30" y2="231.25" stroke="#000" stroke-width="1.2"/>
<line x1="573.00" y1="210.70" x2="579.00" y2="210.70" stroke="#000" stroke-width="1.2"/>
<line x1="818.30" y1="210.70" x2="812.30" y2="210.70" stroke="#000" stroke-width="1.2"/>
<line x1="573.00" y1="198.69" x2="579.00" y2="198.69" stroke="#000" stroke-width="1.2"/>
<line x1="818.30" y1="198.69" x2="812.30" y2="198.69" stroke="#000" stroke-width="1.2"/>
<line x1="573.00" y1="190.16" x2="579.00" y2="190.16" stroke="#000" stroke-width="1.2"/>
<line x1="818.30" y1="190.16" x2="812.30" y2="190.16" stroke="#000" stroke-width="1.2"/>
<line x1="573.00" y1="183.55" x2="579.00" y2="183.55" stroke="#000" stroke-width="1.2"/>
<line x1="818.30" y1="183.55" x2="812.30" y2="183.55" stroke="#000" stroke-width="1.2"/>
<line x1="573.00" y1="178.14" x2="579.00" y2="178.14" stroke="#000" stroke-width="1.2"/>
<line x1="818.30" y1="178.14" x2="812.30" y2="178.14" stroke="#000" stroke-width="1.2"/>
<line x1="573.00" y1="173.57" x2="579.00" y2="173.57" stroke="#000" stroke-width="1.2"/>
<line x1="818.30" y1="173.57" x2="812.30" y2="173.57" stroke="#000" stroke-width="1.2"/>
<line x1="573.00" y1="169.61" x2="579.00" y2="169.61" stroke="#000" stroke-width="1.2"/>
<line x1="818.30" y1="169.61" x2="812.30" y2="169.61" stroke="#000" stroke-width="1.2"/>
<line x1="573.00" y1="166.12" x2="579.00" y2="166.12" stroke="#000" stroke-width="1.2"/>
<line x1="818.30" y1="166.12" x2="812.30" y2="166.12" stroke="#000" stroke-width="1.2"/>
<line x1="573.00" y1="163.00" x2="579.00" y2="163.00" stroke="#000" stroke-width="1.2"/>
<line x1="818.30" y1="163.00" x2="812.30" y2="163.00" stroke="#000" stroke-width="1.2"/>
<line x1="573.00" y1="142.45" x2="579.00" y2="142.45" stroke="#000" stroke-width="1.2"/>
<line x1="818.30" y1="142.45" x2="812.30" y2="142.45" stroke="#000" stroke-width="1.2"/>
<line x1="573.00" y1="130.44" x2="579.00" y2="130.44" stroke="#000" stroke-width="1.2"/>
<line x1="818.30" y1="130.44" x2="812.30" y2="130.44" stroke="#000" stroke-width="1.2"/>
<line x1="573.00" y1="121.91" x2="579.00" y2="121.91" stroke="#000" stroke-width="1.2"/>
<line x1="818.30" y1="121.91" x2="812.30" y2="121.91" stroke="#000" stroke-width="1.2"/>
<line x1="573.00" y1="115.30" x2="579.00" y2="115.30" stroke="#000" stroke-width="1.2"/>
<line x1="818.30" y1="115.30" x2="812.30" y2="115.30" stroke="#000" stroke-width="1.2"/>
<line x1="573.00" y1="109.89" x2="579.00" y2="109.89" stroke="#000" stroke-width="1.2"/>
<line x1="818.30" y1="109.89" x2="812.30" y2="109.89" stroke="#000" stroke-width="1.2"/>
<line x1="573.00" y1="105.32" x2="579.00" y2="105.32" stroke="#000" stroke-width="1.2"/>
<line x1="818.30" y1="105.32" x2="812.30" y2="105.32" stroke="#000" stroke-width="1.2"/>
<line x1="573.00" y1="101.36" x2="579.00" y2="101.36" stroke="#000" stroke-width="1.2"/>
<line x1="818.30" y1="101.36" x2="812.30" y2="101.36" stroke="#000" stroke-width="1.2"/>
<line x1="573.00" y1="97.87" x2="579.00" y2="97.87" stroke="#000" stroke-width="1.2"/>
<line x1="818.30" y1="97.87" x2="812.30" y2="97.87" stroke="#000" stroke-width="1.2"/>
<line x1="573.00" y1="94.75" x2="579.00" y2="94.75" stroke="#000" stroke-width="1.2"/>
<line x1="818.30" y1="94.75" x2="812.30" y2="94.75" stroke="#000" stroke-width="1.2"/>
<line x1="573.00" y1="74.20" x2="579.00" y2="74.20" stroke="#000" stroke-width="1.2"/>
<line x1="818.30" y1="74.20" x2="812.30" y2="74.20" stroke="#000" stroke-width="1.2"/>
<line x1="573.00" y1="62.19" x2="579.00" y2="62.19" stroke="#000" stroke-width="1.2"/>
<line x1="818.30" y1="62.19" x2="812.30" y2="62.19" stroke="#000" stroke-width="1.2"/>
<line x1="573.00" y1="53.66" x2="579.00" y2="53.66" stroke="#000" stroke-width="1.2"/>
<line x1="818.30" y1="53.66" x2="812.30" y2="53.66" stroke="#000" stroke-width="1.2"/>
<line x1="573.00" y1="47.05" x2="579.00" y2="47.05" stroke="#000" stroke-width="1.2"/>
<line x1="818.30" y1="47.05" x2="812.30" y2="47.05" stroke="#000" stroke-width="1.2"/>
<line x1="573.00" y1="41.64" x2="579.00" y2="41.64" stroke="#000" stroke-width="1.2"/>
<line x1="818.30" y1="41.64" x2="812.30" y2="41.64" stroke="#000" stroke-width="1.2"/>
<line x1="573.00" y1="37.07" x2="579.00" y2="37.07" stroke="#000" stroke-width="1.2"/>
<line x1="818.30" y1="37.07" x2="812.30" y2="37.07" stroke="#000" stroke-width="1.2"/>
<line x1="573.00" y1="33.11" x2="579.00" y2="33.11" stroke="#000" stroke-width="1.2"/>
<line x1="818.30" y1="33.11" x2="812.30" y2="33.11" stroke="#000" stroke-width="1.2"/>
<line x1="573.00" y1="29.62" x2="579.00" y2="29.62" stroke="#000" stroke-width="1.2"/>
<line x1="818.30" y1="29.62" x2="812.30" y2="29.62" stroke="#000" stroke-width="1.2"/>
<text x="575.40" y="322.50" font-size="17" text-anchor="middle" font-family='"Liberation Sans", sans-serif' >0</text>
<text x="623.45" y="322.50" font-size="17" text-anchor="middle" font-family='"Liberation Sans", sans-serif' >10</text>
<text x="671.50" y="322.50" font-size="17" text-anchor="middle" font-family='"Liberation Sans", sans-serif' >20</text>
<text x="719.55" y="322.50" font-size="17" text-anchor="middle" font-family='"Liberation Sans", sans-serif' >30</text>
<text x="767.60" y="322.50" font-size="17" text-anchor="middle" font-family='"Liberation Sans", sans-serif' >40</text>
<text x="815.65" y="322.50" font-size="17" text-anchor="middle" font-family='"Liberation Sans", sans-serif' >50</text>
<text x="562.20" y="307.10" font-size="17" text-anchor="end" font-family='"Liberation Sans", sans-serif'>10<tspan font-size="13.600000000000001" dy="-8.70">-6</tspan></text>
<text x="562.20" y="238.85" font-size="17" text-anchor="end" font-family='"Liberation Sans", sans-serif'>10<tspan font-size="13.600000000000001" dy="-8.70">-5</tspan></text>
<text x="562.20" y="170.60" font-size="17" text-anchor="end" font-family='"Liberation Sans", sans-serif'>10<tspan font-size="13.600000000000001" dy="-8.70">-4</tspan></text>
<text x="562.20" y="102.35" font-size="17" text-anchor="end" font-family='"Liberation Sans", sans-serif'>10<tspan font-size="13.600000000000001" dy="-8.70">-3</tspan></text>
<text x="562.20" y="34.10" font-size="17" text-anchor="end" font-family='"Liberation Sans", sans-serif'>10<tspan font-size="13.600000000000001" dy="-8.70">-2</tspan></text>
<text x="695.70" y="348.20" font-size="17" text-anchor="middle" font-family='"Liberation Sans", sans-serif' >time</text>
<text transform="translate(519.7,163.7) rotate(-90)" font-size="17" text-anchor="middle" font-family='"Liberation Sans", sans-serif'>j(t)</text>
<rect x="787" y="33" width="14" height="20.6" fill="#b3b3b3"/>
<text x="794.00" y="49.30" font-size="17" text-anchor="middle" font-family='"Liberation Sans", sans-serif' >b</text>
<text x="720.60" y="70.30" font-size="17" text-anchor="end" font-family='"Liberation Sans", sans-serif' >j(t)</text>
<text x="720.6" y="91.1" font-size="17" text-anchor="end"><tspan font-family='"Liberation Serif", serif'>Γ</tspan><tspan font-family='"Liberation Sans", sans-serif'>(t)</tspan></text>
<path d="M732.00 64.10 L759.00 64.10" fill="none" stroke="#ff0000" stroke-width="1.65" stroke-linejoin="round" />
<path d="M732.00 84.90 L759.00 84.90" fill="none" stroke="#00b000" stroke-width="1.65" stroke-dasharray="4.1 1.65" stroke-linejoin="round" />
<text x="722.20" y="178.20" font-size="17" text-anchor="start"><tspan font-family='"Liberation Sans", sans-serif'>F=0.4, </tspan><tspan font-family='"Liberation Serif", serif' font-size="18.5">β</tspan><tspan font-family='"Liberation Sans", sans-serif' dx="1.2">=3</tspan></text>
<text x="722.20" y="215.80" font-size="17" text-anchor="start"><tspan font-family='"Liberation Sans", sans-serif'>F=0.3, </tspan><tspan font-family='"Liberation Serif", serif' font-size="18.5">β</tspan><tspan font-family='"Liberation Sans", sans-serif' dx="1.2">=3</tspan></text>
<text x="669.90" y="263.90" font-size="17" text-anchor="start"><tspan font-family='"Liberation Sans", sans-serif'>F=0.35, </tspan><tspan font-family='"Liberation Serif", serif' font-size="18.5">β</tspan><tspan font-family='"Liberation Sans", sans-serif' dx="1.2">=5</tspan></text>
</svg>
</body></html>
